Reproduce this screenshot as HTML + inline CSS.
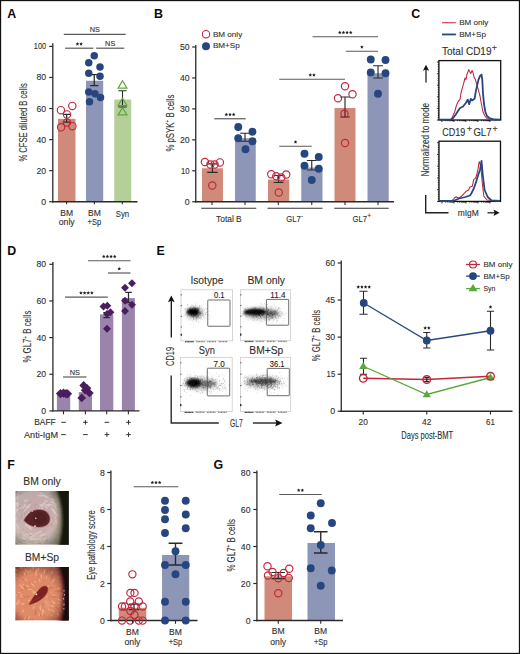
<!DOCTYPE html>
<html><head><meta charset="utf-8"><style>
html,body{margin:0;padding:0;background:#fff;}
svg{display:block;}
text{font-family:"Liberation Sans", sans-serif;}
</style></head><body>
<svg width="520" height="654" viewBox="0 0 520 654">
<rect width="520" height="654" fill="#fff"/>
<rect x="0.5" y="0.5" width="519" height="653" fill="none" stroke="#111" stroke-width="1.3"/>
<text x="7.2" y="17.6" font-size="12.4" font-weight="bold" fill="#0a0a0a">A</text>
<rect x="58" y="118.8" width="17.5" height="82.95" fill="#cf8a7a"/>
<rect x="86" y="80.75" width="17.2" height="121" fill="#8e96b8"/>
<rect x="114.25" y="99.5" width="17" height="102.25" fill="#b5cf98"/>
<line x1="52.8" y1="43.2" x2="52.8" y2="202.5" stroke="#2a2a2a" stroke-width="1.3"/>
<line x1="52" y1="201.75" x2="137.5" y2="201.75" stroke="#2a2a2a" stroke-width="1.3"/>
<line x1="49.2" y1="201.75" x2="52.8" y2="201.75" stroke="#2a2a2a" stroke-width="1.2"/>
<text x="46.2" y="204.75" font-size="8.7" text-anchor="end" fill="#2e2e2e" stroke="#2e2e2e" stroke-width="0.1">0</text>
<line x1="49.2" y1="170.68" x2="52.8" y2="170.68" stroke="#2a2a2a" stroke-width="1.2"/>
<text x="46.2" y="173.68" font-size="8.7" text-anchor="end" fill="#2e2e2e" stroke="#2e2e2e" stroke-width="0.1">20</text>
<line x1="49.2" y1="139.61" x2="52.8" y2="139.61" stroke="#2a2a2a" stroke-width="1.2"/>
<text x="46.2" y="142.61" font-size="8.7" text-anchor="end" fill="#2e2e2e" stroke="#2e2e2e" stroke-width="0.1">40</text>
<line x1="49.2" y1="108.54" x2="52.8" y2="108.54" stroke="#2a2a2a" stroke-width="1.2"/>
<text x="46.2" y="111.54" font-size="8.7" text-anchor="end" fill="#2e2e2e" stroke="#2e2e2e" stroke-width="0.1">60</text>
<line x1="49.2" y1="77.47" x2="52.8" y2="77.47" stroke="#2a2a2a" stroke-width="1.2"/>
<text x="46.2" y="80.47" font-size="8.7" text-anchor="end" fill="#2e2e2e" stroke="#2e2e2e" stroke-width="0.1">80</text>
<line x1="49.2" y1="46.4" x2="52.8" y2="46.4" stroke="#2a2a2a" stroke-width="1.2"/>
<text x="46.2" y="49.4" font-size="8.7" text-anchor="end" fill="#2e2e2e" stroke="#2e2e2e" stroke-width="0.1" textLength="12.4" lengthAdjust="spacingAndGlyphs">100</text>
<line x1="66.6" y1="201.75" x2="66.6" y2="204.3" stroke="#2a2a2a" stroke-width="1.1"/>
<line x1="94.4" y1="201.75" x2="94.4" y2="204.3" stroke="#2a2a2a" stroke-width="1.1"/>
<line x1="122.3" y1="201.75" x2="122.3" y2="204.3" stroke="#2a2a2a" stroke-width="1.1"/>
<text x="66.7" y="215.8" font-size="9" text-anchor="middle" fill="#2e2e2e" stroke="#2e2e2e" stroke-width="0.1" textLength="12.8" lengthAdjust="spacingAndGlyphs">BM</text>
<text x="66.7" y="225.4" font-size="9" text-anchor="middle" fill="#2e2e2e" stroke="#2e2e2e" stroke-width="0.1" textLength="15.9" lengthAdjust="spacingAndGlyphs">only</text>
<text x="94.4" y="215.8" font-size="9" text-anchor="middle" fill="#2e2e2e" stroke="#2e2e2e" stroke-width="0.1" textLength="12.8" lengthAdjust="spacingAndGlyphs">BM</text>
<text x="94.4" y="225.4" font-size="9" text-anchor="middle" fill="#2e2e2e" stroke="#2e2e2e" stroke-width="0.1" textLength="13.6" lengthAdjust="spacingAndGlyphs">+Sp</text>
<text x="122.5" y="216.6" font-size="9" text-anchor="middle" fill="#2e2e2e" stroke="#2e2e2e" stroke-width="0.1" textLength="13.4" lengthAdjust="spacingAndGlyphs">Syn</text>
<text x="26.7" y="122.4" font-size="10.6" text-anchor="middle" fill="#2e2e2e" stroke="#2e2e2e" stroke-width="0.1" textLength="78.4" lengthAdjust="spacingAndGlyphs" transform="rotate(-90 26.7 122.4)">% CFSE diluted B cells</text>
<line x1="63.8" y1="34.4" x2="125.7" y2="34.4" stroke="#5a5a5a" stroke-width="1.2"/>
<text x="94.75" y="32.1" font-size="7.8" text-anchor="middle" fill="#2e2e2e" stroke="#2e2e2e" stroke-width="0.1" textLength="10.2" lengthAdjust="spacingAndGlyphs">NS</text>
<line x1="65.1" y1="48.2" x2="93.4" y2="48.2" stroke="#5a5a5a" stroke-width="1.2"/>
<path d="M77.42 42.10L77.95 43.27L79.23 43.41L78.28 44.28L78.54 45.54L77.42 44.90L76.31 45.54L76.57 44.28L75.62 43.41L76.90 43.27ZM81.08 42.10L81.60 43.27L82.88 43.41L81.93 44.28L82.19 45.54L81.08 44.90L79.96 45.54L80.22 44.28L79.27 43.41L80.55 43.27Z" fill="#1e1e1e"/>
<line x1="96.1" y1="48.2" x2="124.3" y2="48.2" stroke="#5a5a5a" stroke-width="1.2"/>
<text x="110.2" y="45.9" font-size="7.8" text-anchor="middle" fill="#2e2e2e" stroke="#2e2e2e" stroke-width="0.1" textLength="10.2" lengthAdjust="spacingAndGlyphs">NS</text>
<text x="153.9" y="18" font-size="12.4" font-weight="bold" fill="#0a0a0a">B</text>
<text x="212.9" y="36.6" font-size="7.8" fill="#2e2e2e" stroke="#2e2e2e" stroke-width="0.1" textLength="29.3" lengthAdjust="spacingAndGlyphs">BM only</text>
<text x="212.9" y="48.4" font-size="7.8" fill="#2e2e2e" stroke="#2e2e2e" stroke-width="0.1" textLength="26.9" lengthAdjust="spacingAndGlyphs">BM+Sp</text>
<rect x="202" y="168.25" width="21" height="33.5" fill="#cf8a7a"/>
<rect x="235" y="138.25" width="20.75" height="63.5" fill="#8e96b8"/>
<rect x="268" y="179.5" width="21.25" height="22.25" fill="#cf8a7a"/>
<rect x="301.25" y="167.5" width="21.25" height="34.25" fill="#8e96b8"/>
<rect x="334.5" y="108" width="21" height="93.75" fill="#cf8a7a"/>
<rect x="367.5" y="73.25" width="21.25" height="128.5" fill="#8e96b8"/>
<line x1="195.75" y1="45" x2="195.75" y2="202.5" stroke="#2a2a2a" stroke-width="1.3"/>
<line x1="195" y1="201.75" x2="394" y2="201.75" stroke="#2a2a2a" stroke-width="1.3"/>
<line x1="192.2" y1="201.75" x2="195.75" y2="201.75" stroke="#2a2a2a" stroke-width="1.2"/>
<text x="189.6" y="204.75" font-size="8.7" text-anchor="end" fill="#2e2e2e" stroke="#2e2e2e" stroke-width="0.1">0</text>
<line x1="192.2" y1="170.8" x2="195.75" y2="170.8" stroke="#2a2a2a" stroke-width="1.2"/>
<text x="189.6" y="173.8" font-size="8.7" text-anchor="end" fill="#2e2e2e" stroke="#2e2e2e" stroke-width="0.1" textLength="8.6" lengthAdjust="spacingAndGlyphs">10</text>
<line x1="192.2" y1="139.85" x2="195.75" y2="139.85" stroke="#2a2a2a" stroke-width="1.2"/>
<text x="189.6" y="142.85" font-size="8.7" text-anchor="end" fill="#2e2e2e" stroke="#2e2e2e" stroke-width="0.1">20</text>
<line x1="192.2" y1="108.9" x2="195.75" y2="108.9" stroke="#2a2a2a" stroke-width="1.2"/>
<text x="189.6" y="111.9" font-size="8.7" text-anchor="end" fill="#2e2e2e" stroke="#2e2e2e" stroke-width="0.1">30</text>
<line x1="192.2" y1="77.95" x2="195.75" y2="77.95" stroke="#2a2a2a" stroke-width="1.2"/>
<text x="189.6" y="80.95" font-size="8.7" text-anchor="end" fill="#2e2e2e" stroke="#2e2e2e" stroke-width="0.1">40</text>
<line x1="192.2" y1="47" x2="195.75" y2="47" stroke="#2a2a2a" stroke-width="1.2"/>
<text x="189.6" y="50" font-size="8.7" text-anchor="end" fill="#2e2e2e" stroke="#2e2e2e" stroke-width="0.1">50</text>
<line x1="212" y1="201.75" x2="212" y2="205" stroke="#2a2a2a" stroke-width="1.1"/>
<line x1="245" y1="201.75" x2="245" y2="205" stroke="#2a2a2a" stroke-width="1.1"/>
<line x1="278.25" y1="201.75" x2="278.25" y2="205" stroke="#2a2a2a" stroke-width="1.1"/>
<line x1="311.75" y1="201.75" x2="311.75" y2="205" stroke="#2a2a2a" stroke-width="1.1"/>
<line x1="345" y1="201.75" x2="345" y2="205" stroke="#2a2a2a" stroke-width="1.1"/>
<line x1="378" y1="201.75" x2="378" y2="205" stroke="#2a2a2a" stroke-width="1.1"/>
<line x1="201.25" y1="208.25" x2="256.25" y2="208.25" stroke="#333" stroke-width="1.2"/>
<line x1="267.5" y1="208.25" x2="322.5" y2="208.25" stroke="#333" stroke-width="1.2"/>
<line x1="334.25" y1="208.25" x2="388.75" y2="208.25" stroke="#333" stroke-width="1.2"/>
<text x="228.9" y="221.9" font-size="8.9" text-anchor="middle" fill="#2e2e2e" stroke="#2e2e2e" stroke-width="0.1" textLength="25.6" lengthAdjust="spacingAndGlyphs">Total B</text>
<text x="286.2" y="222.3" font-size="8.9" fill="#2e2e2e" stroke="#2e2e2e" stroke-width="0.1" textLength="14.6" lengthAdjust="spacingAndGlyphs">GL7</text>
<text x="300.9" y="218.3" font-size="6.5" fill="#2e2e2e" stroke="#2e2e2e" stroke-width="0.1">-</text>
<text x="352.5" y="222.3" font-size="8.9" fill="#2e2e2e" stroke="#2e2e2e" stroke-width="0.1" textLength="14.6" lengthAdjust="spacingAndGlyphs">GL7</text>
<text x="367.2" y="218.3" font-size="6.5" fill="#2e2e2e" stroke="#2e2e2e" stroke-width="0.1">+</text>
<text x="174.1" y="123.05" font-size="10.6" text-anchor="middle" fill="#2e2e2e" stroke="#2e2e2e" stroke-width="0.1" textLength="57.1" lengthAdjust="spacingAndGlyphs" transform="rotate(-90 174.1 123.05)">% pSYK<tspan font-size="6.5" dy="-3.6">+</tspan><tspan dy="3.6"> B cells</tspan></text>
<line x1="214.25" y1="118.75" x2="245.75" y2="118.75" stroke="#5a5a5a" stroke-width="1.2"/>
<path d="M226.35 112.65L226.88 113.82L228.16 113.96L227.21 114.83L227.47 116.09L226.35 115.45L225.23 116.09L225.49 114.83L224.54 113.96L225.82 113.82ZM230.00 112.65L230.53 113.82L231.81 113.96L230.86 114.83L231.12 116.09L230.00 115.45L228.88 116.09L229.14 114.83L228.19 113.96L229.47 113.82ZM233.65 112.65L234.18 113.82L235.46 113.96L234.51 114.83L234.77 116.09L233.65 115.45L232.53 116.09L232.79 114.83L231.84 113.96L233.12 113.82Z" fill="#1e1e1e"/>
<line x1="279.25" y1="146.25" x2="311.75" y2="146.25" stroke="#5a5a5a" stroke-width="1.2"/>
<path d="M295.50 140.15L296.03 141.32L297.31 141.46L296.36 142.33L296.62 143.59L295.50 142.95L294.38 143.59L294.64 142.33L293.69 141.46L294.97 141.32Z" fill="#1e1e1e"/>
<line x1="279.25" y1="79.25" x2="345" y2="79.25" stroke="#5a5a5a" stroke-width="1.2"/>
<path d="M310.30 73.15L310.83 74.32L312.11 74.46L311.16 75.33L311.42 76.59L310.30 75.95L309.18 76.59L309.44 75.33L308.49 74.46L309.77 74.32ZM313.95 73.15L314.48 74.32L315.76 74.46L314.81 75.33L315.07 76.59L313.95 75.95L312.83 76.59L313.09 75.33L312.14 74.46L313.42 74.32Z" fill="#1e1e1e"/>
<line x1="312.5" y1="36.75" x2="378" y2="36.75" stroke="#5a5a5a" stroke-width="1.2"/>
<path d="M339.77 30.65L340.30 31.82L341.58 31.96L340.63 32.83L340.89 34.09L339.77 33.45L338.66 34.09L338.92 32.83L337.97 31.96L339.25 31.82ZM343.43 30.65L343.95 31.82L345.23 31.96L344.28 32.83L344.54 34.09L343.43 33.45L342.31 34.09L342.57 32.83L341.62 31.96L342.90 31.82ZM347.07 30.65L347.60 31.82L348.88 31.96L347.93 32.83L348.19 34.09L347.07 33.45L345.96 34.09L346.22 32.83L345.27 31.96L346.55 31.82ZM350.73 30.65L351.25 31.82L352.53 31.96L351.58 32.83L351.84 34.09L350.73 33.45L349.61 34.09L349.87 32.83L348.92 31.96L350.20 31.82Z" fill="#1e1e1e"/>
<line x1="345.75" y1="51.25" x2="378" y2="51.25" stroke="#5a5a5a" stroke-width="1.2"/>
<path d="M361.88 45.15L362.40 46.32L363.68 46.46L362.73 47.33L362.99 48.59L361.88 47.95L360.76 48.59L361.02 47.33L360.07 46.46L361.35 46.32Z" fill="#1e1e1e"/>
<text x="411.3" y="18" font-size="12.4" font-weight="bold" fill="#0a0a0a">C</text>
<line x1="442" y1="22.75" x2="455.9" y2="22.75" stroke="#c0263c" stroke-width="1"/>
<text x="459.2" y="25" font-size="7.8" fill="#2e2e2e" stroke="#2e2e2e" stroke-width="0.1" textLength="29" lengthAdjust="spacingAndGlyphs">BM only</text>
<line x1="442" y1="34.45" x2="455.9" y2="34.45" stroke="#27467f" stroke-width="1.8"/>
<text x="459.2" y="36.9" font-size="7.8" fill="#2e2e2e" stroke="#2e2e2e" stroke-width="0.1" textLength="26.7" lengthAdjust="spacingAndGlyphs">BM+Sp</text>
<text x="442" y="55.2" font-size="10.6" fill="#2e2e2e" stroke="#2e2e2e" stroke-width="0.1" textLength="49.5" lengthAdjust="spacingAndGlyphs">Total CD19</text>
<text x="491.8" y="51.4" font-size="8.4" fill="#2e2e2e" stroke="#2e2e2e" stroke-width="0.1" textLength="5.2" lengthAdjust="spacingAndGlyphs">+</text>
<text x="442.3" y="135.5" font-size="10.4" fill="#2e2e2e" stroke="#2e2e2e" stroke-width="0.1" textLength="23.1" lengthAdjust="spacingAndGlyphs">CD19</text>
<text x="466.8" y="132.2" font-size="8.4" fill="#2e2e2e" stroke="#2e2e2e" stroke-width="0.1" textLength="5.3" lengthAdjust="spacingAndGlyphs">+</text>
<text x="473.4" y="135.5" font-size="10.4" fill="#2e2e2e" stroke="#2e2e2e" stroke-width="0.1" textLength="18.1" lengthAdjust="spacingAndGlyphs">GL7</text>
<text x="492.6" y="132.2" font-size="8.4" fill="#2e2e2e" stroke="#2e2e2e" stroke-width="0.1" textLength="5.1" lengthAdjust="spacingAndGlyphs">+</text>
<rect x="438.9" y="60.6" width="61.8" height="59.4" fill="none" stroke="#111" stroke-width="1.3"/>
<rect x="439.0" y="141.2" width="61.5" height="60.2" fill="none" stroke="#111" stroke-width="1.3"/>
<path d="M436.9 120H438.9M437.7 117.68H438.9M437.7 115.37H438.9M437.7 113.05H438.9M437.7 110.74H438.9M436.9 108.42H438.9M437.7 106.1H438.9M437.7 103.79H438.9M437.7 101.47H438.9M437.7 99.16H438.9M436.9 96.84H438.9M437.7 94.52H438.9M437.7 92.21H438.9M437.7 89.89H438.9M437.7 87.58H438.9M436.9 85.26H438.9M437.7 82.94H438.9M437.7 80.63H438.9M437.7 78.31H438.9M437.7 76H438.9M436.9 73.68H438.9M437.7 71.36H438.9M437.7 69.05H438.9M437.7 66.73H438.9M437.7 64.42H438.9M436.9 62.1H438.9M441.9 120V122M445.51 120V121.2M447.63 120V121.2M449.12 120V121.2M450.29 120V121.2M451.24 120V121.2M452.04 120V121.2M452.74 120V121.2M453.35 120V121.2M453.9 120V122M457.51 120V121.2M459.63 120V121.2M461.12 120V121.2M462.29 120V121.2M463.24 120V121.2M464.04 120V121.2M464.74 120V121.2M465.35 120V121.2M465.9 120V122M469.51 120V121.2M471.63 120V121.2M473.12 120V121.2M474.29 120V121.2M475.24 120V121.2M476.04 120V121.2M476.74 120V121.2M477.35 120V121.2M477.9 120V122M481.51 120V121.2M483.63 120V121.2M485.12 120V121.2M486.29 120V121.2M487.24 120V121.2M488.04 120V121.2M488.74 120V121.2M489.35 120V121.2M489.9 120V122" stroke="#111" stroke-width="0.85" fill="none"/>
<path d="M437 201.4H439M437.8 199.05H439M437.8 196.7H439M437.8 194.36H439M437.8 192.01H439M437 189.66H439M437.8 187.31H439M437.8 184.96H439M437.8 182.62H439M437.8 180.27H439M437 177.92H439M437.8 175.57H439M437.8 173.22H439M437.8 170.88H439M437.8 168.53H439M437 166.18H439M437.8 163.83H439M437.8 161.48H439M437.8 159.14H439M437.8 156.79H439M437 154.44H439M437.8 152.09H439M437.8 149.74H439M437.8 147.4H439M437.8 145.05H439M437 142.7H439M442 201.4V203.4M445.61 201.4V202.6M447.73 201.4V202.6M449.22 201.4V202.6M450.39 201.4V202.6M451.34 201.4V202.6M452.14 201.4V202.6M452.84 201.4V202.6M453.45 201.4V202.6M454 201.4V203.4M457.61 201.4V202.6M459.73 201.4V202.6M461.22 201.4V202.6M462.39 201.4V202.6M463.34 201.4V202.6M464.14 201.4V202.6M464.84 201.4V202.6M465.45 201.4V202.6M466 201.4V203.4M469.61 201.4V202.6M471.73 201.4V202.6M473.22 201.4V202.6M474.39 201.4V202.6M475.34 201.4V202.6M476.14 201.4V202.6M476.84 201.4V202.6M477.45 201.4V202.6M478 201.4V203.4M481.61 201.4V202.6M483.73 201.4V202.6M485.22 201.4V202.6M486.39 201.4V202.6M487.34 201.4V202.6M488.14 201.4V202.6M488.84 201.4V202.6M489.45 201.4V202.6M490 201.4V203.4" stroke="#111" stroke-width="0.85" fill="none"/>
<path d="M440 119.6L450.8 119.4L452.5 117L454.6 112L456 107L457 104L458.5 101L460 99.6L461 93L462.3 88L463.5 84L465 78L466 79.5L467 74.2L468.8 69.6L469.6 71.5L470.8 73.5L472 70.5L473 72.5L474 77L475.4 79.6L477 85L478.5 90.4L480 96L480.8 101L482 107L483 112L485 116L487 118.8L491.5 119.5L500 119.6" stroke="#c0263c" stroke-width="1.05" fill="none" stroke-linejoin="round"/>
<path d="M440 119.6L451.5 119.5L453.5 117.5L455.4 115L458 111L460 108L463 106.5L466 102.7L467.7 99.6L469.2 104.2L470.8 98.8L472 100.5L474.6 98.8L476 90.4L478.5 79.6L480 76L481.5 74.7L482.3 80L483 93.5L484 104L485.4 112L487 116L489.2 118L494.6 119.5L500 119.6" stroke="#27467f" stroke-width="1.8" fill="none" stroke-linejoin="round"/>
<path d="M440 201L451.5 201L454.6 197.8L456.2 196.7L458.5 198.2L461.5 196.2L463.8 194L466.2 191.2L468.5 190L470 187L472.3 186.2L473.8 179.3L475.8 177.8L477.7 170.8L479.2 161.6L480.8 166.2L482.3 183.2L483.8 196.2L487 200L500 201" stroke="#c0263c" stroke-width="1.05" fill="none" stroke-linejoin="round"/>
<path d="M440 201L453 201L459.2 198.5L465.4 197L470 195.5L471.5 193.2L473.8 188.5L476.2 181.6L478.5 174L480 170L481.5 160.8L482.8 175.5L484.6 190L487.7 197L491.5 200.4L500 201" stroke="#27467f" stroke-width="1.8" fill="none" stroke-linejoin="round"/>
<line x1="426" y1="82.5" x2="426" y2="68" stroke="#111" stroke-width="1.2"/>
<path d="M422.9 70.8L426 64.8L429.1 70.8L426 69.6Z" fill="#111"/>
<text x="429.2" y="139.7" font-size="10.6" text-anchor="middle" fill="#2e2e2e" stroke="#2e2e2e" stroke-width="0.1" textLength="73.4" lengthAdjust="spacingAndGlyphs" transform="rotate(-90 429.2 139.7)">Normalized to mode</text>
<path d="M425.7 195V212.8H448.5" stroke="#222" stroke-width="1.4" fill="none"/>
<text x="468.2" y="215.7" font-size="9.8" text-anchor="middle" fill="#2e2e2e" stroke="#2e2e2e" stroke-width="0.1" textLength="21" lengthAdjust="spacingAndGlyphs">mIgM</text>
<line x1="487.5" y1="212.8" x2="496" y2="212.8" stroke="#111" stroke-width="1.2"/>
<path d="M493.5 209.6L499.6 212.8L493.5 216L494.7 212.8Z" fill="#111"/>
<text x="7.2" y="254.6" font-size="12.4" font-weight="bold" fill="#0a0a0a">D</text>
<rect x="56.9" y="394.5" width="13.3" height="16.4" fill="#9b84ab"/>
<rect x="78.8" y="392.1" width="13.2" height="18.8" fill="#9b84ab"/>
<rect x="100" y="314.4" width="13.3" height="96.5" fill="#9b84ab"/>
<rect x="121.9" y="298.1" width="13" height="112.8" fill="#9b84ab"/>
<line x1="52.9" y1="262" x2="52.9" y2="411.6" stroke="#2a2a2a" stroke-width="1.3"/>
<line x1="52.1" y1="410.9" x2="139.5" y2="410.9" stroke="#2a2a2a" stroke-width="1.3"/>
<line x1="49.3" y1="410.9" x2="52.9" y2="410.9" stroke="#2a2a2a" stroke-width="1.2"/>
<text x="46.2" y="413.9" font-size="8.7" text-anchor="end" fill="#2e2e2e" stroke="#2e2e2e" stroke-width="0.1">0</text>
<line x1="49.3" y1="374.25" x2="52.9" y2="374.25" stroke="#2a2a2a" stroke-width="1.2"/>
<text x="46.2" y="377.25" font-size="8.7" text-anchor="end" fill="#2e2e2e" stroke="#2e2e2e" stroke-width="0.1">20</text>
<line x1="49.3" y1="337.6" x2="52.9" y2="337.6" stroke="#2a2a2a" stroke-width="1.2"/>
<text x="46.2" y="340.6" font-size="8.7" text-anchor="end" fill="#2e2e2e" stroke="#2e2e2e" stroke-width="0.1">40</text>
<line x1="49.3" y1="300.95" x2="52.9" y2="300.95" stroke="#2a2a2a" stroke-width="1.2"/>
<text x="46.2" y="303.95" font-size="8.7" text-anchor="end" fill="#2e2e2e" stroke="#2e2e2e" stroke-width="0.1">60</text>
<line x1="49.3" y1="264.3" x2="52.9" y2="264.3" stroke="#2a2a2a" stroke-width="1.2"/>
<text x="46.2" y="267.3" font-size="8.7" text-anchor="end" fill="#2e2e2e" stroke="#2e2e2e" stroke-width="0.1">80</text>
<line x1="63.5" y1="410.9" x2="63.5" y2="414.3" stroke="#2a2a2a" stroke-width="1.1"/>
<line x1="85.4" y1="410.9" x2="85.4" y2="414.3" stroke="#2a2a2a" stroke-width="1.1"/>
<line x1="106.7" y1="410.9" x2="106.7" y2="414.3" stroke="#2a2a2a" stroke-width="1.1"/>
<line x1="128.4" y1="410.9" x2="128.4" y2="414.3" stroke="#2a2a2a" stroke-width="1.1"/>
<text x="31.2" y="336.6" font-size="10.6" text-anchor="middle" fill="#2e2e2e" stroke="#2e2e2e" stroke-width="0.1" textLength="51.9" lengthAdjust="spacingAndGlyphs" transform="rotate(-90 31.2 336.6)">% GL7<tspan font-size="6.5" dy="-3.6">+</tspan><tspan dy="3.6"> B cells</tspan></text>
<line x1="63" y1="377" x2="86.5" y2="377" stroke="#5a5a5a" stroke-width="1.2"/>
<text x="74.75" y="374.7" font-size="7.8" text-anchor="middle" fill="#2e2e2e" stroke="#2e2e2e" stroke-width="0.1" textLength="10.2" lengthAdjust="spacingAndGlyphs">NS</text>
<line x1="65" y1="297.1" x2="107.8" y2="297.1" stroke="#5a5a5a" stroke-width="1.2"/>
<path d="M80.93 291.00L81.45 292.17L82.73 292.31L81.78 293.18L82.04 294.44L80.93 293.80L79.81 294.44L80.07 293.18L79.12 292.31L80.40 292.17ZM84.58 291.00L85.10 292.17L86.38 292.31L85.43 293.18L85.69 294.44L84.58 293.80L83.46 294.44L83.72 293.18L82.77 292.31L84.05 292.17ZM88.23 291.00L88.75 292.17L90.03 292.31L89.08 293.18L89.34 294.44L88.23 293.80L87.11 294.44L87.37 293.18L86.42 292.31L87.70 292.17ZM91.88 291.00L92.40 292.17L93.68 292.31L92.73 293.18L92.99 294.44L91.88 293.80L90.76 294.44L91.02 293.18L90.07 292.31L91.35 292.17Z" fill="#1e1e1e"/>
<line x1="88" y1="260.75" x2="130.5" y2="260.75" stroke="#5a5a5a" stroke-width="1.2"/>
<path d="M103.78 254.65L104.30 255.82L105.58 255.96L104.63 256.83L104.89 258.09L103.78 257.45L102.66 258.09L102.92 256.83L101.97 255.96L103.25 255.82ZM107.42 254.65L107.95 255.82L109.23 255.96L108.28 256.83L108.54 258.09L107.42 257.45L106.31 258.09L106.57 256.83L105.62 255.96L106.90 255.82ZM111.08 254.65L111.60 255.82L112.88 255.96L111.93 256.83L112.19 258.09L111.08 257.45L109.96 258.09L110.22 256.83L109.27 255.96L110.55 255.82ZM114.72 254.65L115.25 255.82L116.53 255.96L115.58 256.83L115.84 258.09L114.72 257.45L113.61 258.09L113.87 256.83L112.92 255.96L114.20 255.82Z" fill="#1e1e1e"/>
<line x1="108" y1="273" x2="130.5" y2="273" stroke="#5a5a5a" stroke-width="1.2"/>
<path d="M119.25 266.90L119.78 268.07L121.06 268.21L120.11 269.08L120.37 270.34L119.25 269.70L118.13 270.34L118.39 269.08L117.44 268.21L118.72 268.07Z" fill="#1e1e1e"/>
<text x="55.8" y="425.2" font-size="8.8" text-anchor="end" fill="#2e2e2e" stroke="#2e2e2e" stroke-width="0.1" textLength="21.6" lengthAdjust="spacingAndGlyphs">BAFF</text>
<text x="58" y="437.5" font-size="8.8" text-anchor="end" fill="#2e2e2e" stroke="#2e2e2e" stroke-width="0.1" textLength="34" lengthAdjust="spacingAndGlyphs">Anti-IgM</text>
<line x1="61.2" y1="422.3" x2="65.8" y2="422.3" stroke="#333" stroke-width="1"/>
<line x1="83.1" y1="422.3" x2="87.7" y2="422.3" stroke="#333" stroke-width="1"/>
<line x1="85.4" y1="420" x2="85.4" y2="424.6" stroke="#333" stroke-width="1"/>
<line x1="104.6" y1="422.3" x2="109.2" y2="422.3" stroke="#333" stroke-width="1"/>
<line x1="126.2" y1="422.3" x2="130.8" y2="422.3" stroke="#333" stroke-width="1"/>
<line x1="128.5" y1="420" x2="128.5" y2="424.6" stroke="#333" stroke-width="1"/>
<line x1="61.2" y1="434.6" x2="65.8" y2="434.6" stroke="#333" stroke-width="1"/>
<line x1="83.1" y1="434.6" x2="87.7" y2="434.6" stroke="#333" stroke-width="1"/>
<line x1="104.6" y1="434.6" x2="109.2" y2="434.6" stroke="#333" stroke-width="1"/>
<line x1="106.9" y1="432.3" x2="106.9" y2="436.9" stroke="#333" stroke-width="1"/>
<line x1="126.2" y1="434.6" x2="130.8" y2="434.6" stroke="#333" stroke-width="1"/>
<line x1="128.5" y1="432.3" x2="128.5" y2="436.9" stroke="#333" stroke-width="1"/>
<text x="156.6" y="255" font-size="12.4" font-weight="bold" fill="#0a0a0a">E</text>
<text x="206.9" y="283.5" font-size="10.6" text-anchor="middle" fill="#2e2e2e" stroke="#2e2e2e" stroke-width="0.1" textLength="33" lengthAdjust="spacingAndGlyphs">Isotype</text>
<text x="266.25" y="283.5" font-size="10.6" text-anchor="middle" fill="#2e2e2e" stroke="#2e2e2e" stroke-width="0.1" textLength="37.7" lengthAdjust="spacingAndGlyphs">BM only</text>
<text x="206.9" y="353.7" font-size="10.6" text-anchor="middle" fill="#2e2e2e" stroke="#2e2e2e" stroke-width="0.1" textLength="16.1" lengthAdjust="spacingAndGlyphs">Syn</text>
<text x="266.25" y="353.7" font-size="10.6" text-anchor="middle" fill="#2e2e2e" stroke="#2e2e2e" stroke-width="0.1" textLength="33.9" lengthAdjust="spacingAndGlyphs">BM+Sp</text>
<defs><filter id="fb1" x="-50%" y="-50%" width="200%" height="200%"><feGaussianBlur stdDeviation="1.1"/></filter><filter id="fb2" x="-50%" y="-50%" width="200%" height="200%"><feGaussianBlur stdDeviation="2.2"/></filter></defs>
<rect x="181" y="289.8" width="51.5" height="51" fill="none" stroke="#d0d0d0" stroke-width="0.9"/>
<clipPath id="fc181289"><rect x="181" y="289.8" width="51.5" height="51"/></clipPath>
<g clip-path="url(#fc181289)"><ellipse cx="194.5" cy="313" rx="8.5" ry="5.5" fill="#000" fill-opacity="0.3" filter="url(#fb2)"/><ellipse cx="193.1" cy="311.9" rx="6.2" ry="3.7" fill="#000" fill-opacity="0.95" filter="url(#fb1)"/><path d="M194.2 315.6h.6M200.1 313.8h.6M199.5 313.6h.6M191.7 305.1h.6M192.7 311.8h.6M191.6 314.1h.6M196.6 317.3h.6M193.7 318.0h.6M197.4 316.8h.6M185.7 309.0h.6M201.0 305.9h.6M193.6 314.2h.6M197.1 312.6h.6M193.4 315.4h.6M192.3 312.1h.6M196.1 313.2h.6M197.7 308.0h.6M193.1 313.8h.6M193.3 311.2h.6M197.1 313.5h.6M190.1 313.9h.6M187.2 312.1h.6M195.8 313.5h.6M191.0 312.5h.6M185.4 314.8h.6M190.3 314.0h.6M191.9 310.9h.6M188.6 310.7h.6M187.3 317.7h.6M194.2 312.2h.6M198.0 315.5h.6M193.0 313.7h.6M190.7 310.8h.6M195.7 310.3h.6M197.2 312.9h.6M192.6 313.3h.6M196.5 314.3h.6M198.7 308.7h.6M193.1 310.7h.6M190.3 312.2h.6M195.6 317.3h.6M195.1 305.4h.6M198.9 313.8h.6M188.2 310.9h.6M191.0 313.8h.6M190.2 311.0h.6M186.2 313.6h.6M194.6 317.2h.6M196.4 313.6h.6M190.7 313.8h.6M200.2 313.6h.6M197.7 310.2h.6M196.8 314.1h.6M195.8 311.9h.6M198.3 310.1h.6M188.0 312.4h.6M196.8 311.8h.6M196.7 314.8h.6M186.0 312.4h.6M195.6 310.9h.6M192.9 316.9h.6M197.5 315.5h.6M192.0 316.3h.6M193.9 314.3h.6M195.5 312.2h.6M190.1 311.2h.6M196.7 311.7h.6M193.5 315.3h.6M196.2 312.8h.6M191.7 308.1h.6M198.9 312.4h.6M196.7 308.3h.6M193.2 313.0h.6M196.8 308.9h.6M199.7 308.7h.6M202.1 312.9h.6M186.9 312.3h.6M198.0 307.5h.6M196.1 314.7h.6M193.6 319.0h.6M189.5 308.1h.6M199.7 318.0h.6M188.3 310.4h.6M196.6 311.0h.6M199.9 312.0h.6M186.8 308.2h.6M192.6 316.4h.6M188.1 314.0h.6M195.1 310.2h.6M200.8 311.7h.6M203.1 308.0h.6M186.0 311.5h.6M191.4 315.3h.6M197.2 307.4h.6M201.1 311.2h.6M195.9 312.9h.6M190.6 315.6h.6M195.3 316.5h.6M193.9 311.1h.6M193.1 310.3h.6M190.7 313.9h.6M195.7 311.4h.6M195.4 311.6h.6M193.6 315.7h.6M193.0 317.6h.6M188.2 313.3h.6M191.8 311.9h.6M199.4 314.2h.6M193.1 306.8h.6M187.5 312.4h.6M200.0 309.3h.6M196.4 319.7h.6M203.5 314.7h.6M194.3 312.9h.6M191.9 311.9h.6M187.5 305.0h.6M200.0 314.6h.6M205.6 317.4h.6M190.3 310.3h.6M191.1 314.6h.6M196.7 314.7h.6M190.3 307.9h.6M192.8 315.3h.6M192.4 316.6h.6M194.9 313.2h.6M198.9 312.3h.6M194.1 314.9h.6M198.1 307.9h.6M192.1 312.8h.6M195.5 315.7h.6M184.4 308.8h.6M187.5 315.5h.6M197.6 311.2h.6M191.3 306.3h.6M196.6 312.2h.6M196.4 309.6h.6M200.0 313.5h.6M197.7 309.0h.6M198.6 315.7h.6M193.5 310.3h.6M190.9 313.6h.6M190.7 310.7h.6M191.8 311.5h.6M188.9 316.1h.6M191.5 313.1h.6M193.6 311.3h.6M195.1 308.7h.6M192.5 316.0h.6M185.3 314.7h.6M193.7 311.5h.6M195.0 313.2h.6M198.9 309.4h.6M196.6 309.5h.6M191.1 310.0h.6M190.7 313.6h.6M203.0 313.4h.6M197.4 310.3h.6M202.2 314.7h.6M203.6 314.9h.6M190.3 313.0h.6M195.7 315.6h.6M196.1 311.6h.6M196.5 312.2h.6M196.4 313.9h.6M194.9 312.4h.6M194.8 314.9h.6M187.2 308.7h.6M193.3 316.8h.6M190.6 310.2h.6M194.6 312.0h.6M191.9 308.4h.6M196.8 314.3h.6M197.7 316.3h.6M195.4 315.7h.6M195.4 315.0h.6M194.4 307.8h.6M192.0 310.2h.6M193.3 311.1h.6M191.8 309.7h.6M195.7 315.9h.6M194.1 313.1h.6M196.6 312.4h.6M188.0 314.0h.6M198.0 309.6h.6M190.6 309.8h.6M190.7 309.9h.6M193.1 314.0h.6M191.5 313.5h.6M195.3 314.2h.6M191.4 315.7h.6M189.2 308.4h.6M190.2 310.8h.6M199.9 312.9h.6M194.2 308.5h.6M188.7 310.9h.6M194.0 315.5h.6M187.0 315.8h.6M202.1 315.7h.6M187.1 312.6h.6M196.2 311.9h.6M196.4 315.7h.6M187.5 311.4h.6M195.4 313.5h.6M198.5 316.5h.6M196.1 311.4h.6M195.2 310.7h.6M198.3 312.5h.6M194.7 314.3h.6M195.5 313.9h.6M193.4 313.0h.6M196.8 314.2h.6M189.8 307.7h.6M197.6 309.9h.6M191.7 313.0h.6M189.1 309.7h.6M195.6 308.5h.6M201.6 308.9h.6M198.3 309.7h.6M191.7 312.0h.6M197.1 309.4h.6M192.0 313.2h.6M193.4 317.6h.6M194.4 312.1h.6M183.6 316.3h.6M194.9 313.4h.6M189.4 309.1h.6M190.9 311.7h.6M187.4 309.6h.6M187.2 314.8h.6M189.8 309.0h.6M197.7 316.5h.6M201.5 314.2h.6M193.9 306.4h.6M198.9 314.9h.6M192.8 317.2h.6M185.4 310.1h.6M194.7 315.5h.6M196.0 307.1h.6M192.1 313.3h.6M195.4 307.5h.6M196.6 313.9h.6M190.1 307.1h.6M187.4 304.6h.6M193.0 313.7h.6M193.1 319.4h.6M192.4 310.7h.6M198.4 315.0h.6M201.8 312.8h.6M192.1 311.5h.6M197.1 314.3h.6M198.2 317.4h.6M197.2 308.8h.6M198.7 314.2h.6M192.2 313.5h.6M197.3 308.2h.6M203.1 317.3h.6M197.6 318.3h.6M191.2 309.6h.6M196.7 317.7h.6M199.7 312.7h.6M195.7 312.0h.6M191.5 317.0h.6M200.9 313.2h.6M188.4 313.5h.6M196.3 317.1h.6M193.9 316.4h.6M188.6 315.2h.6M199.5 308.3h.6M195.6 307.8h.6M188.7 315.9h.6M196.7 309.7h.6M192.1 312.9h.6M185.4 309.3h.6M190.9 311.9h.6M195.2 308.7h.6M196.9 317.4h.6M194.7 309.4h.6M194.2 312.1h.6M196.1 311.9h.6M193.1 316.1h.6M199.3 308.2h.6M194.7 312.4h.6M195.3 311.9h.6M196.4 314.1h.6M189.2 313.9h.6M190.8 311.1h.6M200.9 313.2h.6M195.5 311.4h.6M192.7 313.9h.6M195.5 312.2h.6M191.8 310.5h.6M195.3 312.4h.6M191.0 313.6h.6M195.2 319.3h.6M186.9 311.0h.6M200.0 313.4h.6M191.7 316.9h.6M186.9 306.3h.6M193.0 307.3h.6M192.3 308.9h.6M194.7 312.2h.6M188.8 319.8h.6M195.8 313.7h.6M210.3 316.1h.6M188.2 311.8h.6M195.5 305.1h.6M192.6 305.6h.6M194.9 315.6h.6M185.8 313.1h.6M188.8 308.6h.6M196.1 315.9h.6M193.8 307.9h.6M201.4 315.9h.6M190.8 316.9h.6M194.8 310.2h.6M207.1 309.2h.6M190.6 315.0h.6M189.9 309.2h.6M193.8 315.1h.6M193.8 308.9h.6M197.8 314.9h.6M194.6 312.8h.6M190.6 311.2h.6M195.0 309.8h.6M205.9 313.2h.6M199.7 306.8h.6M193.4 311.3h.6M190.1 314.5h.6M196.8 308.7h.6M193.2 317.6h.6M202.7 311.6h.6M198.2 309.1h.6M198.0 316.7h.6M194.8 317.5h.6M193.8 311.9h.6M195.5 309.8h.6M199.8 312.5h.6M196.4 310.4h.6M192.4 311.6h.6M199.7 317.2h.6M194.9 313.7h.6M193.7 312.9h.6M190.4 313.5h.6M191.5 312.3h.6M191.1 315.0h.6M198.6 311.4h.6M196.5 312.8h.6M193.0 319.7h.6M201.1 308.3h.6M198.1 315.2h.6M209.2 311.3h.6M199.0 306.0h.6M193.5 323.9h.6M202.4 310.7h.6M194.5 309.0h.6M196.5 319.0h.6M200.6 318.7h.6M198.4 309.4h.6M195.2 308.1h.6M196.2 310.0h.6M196.0 318.5h.6M204.8 312.8h.6M195.4 310.8h.6M196.1 313.9h.6M209.2 318.8h.6M196.2 308.4h.6M206.4 312.5h.6M205.6 308.5h.6M198.2 322.7h.6M191.9 321.3h.6M201.3 317.8h.6M202.4 313.5h.6M203.8 316.6h.6M199.4 305.6h.6M205.0 315.1h.6M206.0 308.7h.6M193.7 308.7h.6M206.1 311.2h.6M199.9 312.6h.6M196.2 316.3h.6M197.4 316.8h.6M208.4 315.1h.6M203.9 310.2h.6M190.1 316.7h.6M199.4 313.5h.6M198.3 318.7h.6M198.1 310.3h.6M196.4 302.9h.6M191.7 312.1h.6M203.3 322.6h.6M194.3 315.9h.6M197.1 313.2h.6M196.0 317.5h.6M195.4 316.0h.6M202.7 315.8h.6M200.9 311.9h.6M195.6 314.3h.6M194.3 314.8h.6M196.7 311.4h.6M203.8 309.5h.6M199.6 314.6h.6M200.2 317.9h.6M197.4 316.6h.6M197.7 316.0h.6M200.1 316.0h.6M189.8 324.3h.6M207.1 315.0h.6M195.1 318.2h.6M196.2 321.8h.6M205.7 314.2h.6M200.1 315.1h.6M199.2 318.2h.6M196.1 320.8h.6M191.2 315.3h.6M199.9 315.5h.6M205.0 314.4h.6M194.5 309.2h.6M205.8 318.5h.6M193.4 313.0h.6M195.3 307.1h.6M201.5 313.4h.6M199.0 307.1h.6M202.5 310.0h.6M195.3 314.1h.6M193.8 310.3h.6M189.7 318.3h.6M193.0 308.1h.6M193.6 315.1h.6" stroke="#000" stroke-width="0.6" stroke-opacity="0.35" fill="none"/></g>
<rect x="207.75" y="300" width="22.25" height="26.25" rx="0.5" fill="none" stroke="#555" stroke-width="0.85"/>
<text x="219.2" y="298.3" font-size="8.2" text-anchor="middle" fill="#1a1a1a" stroke="#1a1a1a" stroke-width="0.1" textLength="10.6" lengthAdjust="spacingAndGlyphs">0.1</text>
<path d="M180.7 294.9h1.3M180.7 305.61h1.3M180.7 316.32h1.3M180.7 327.03h1.3" stroke="#333" stroke-width="0.8" fill="none"/>
<path d="M181.3 333.66v2.2" stroke="#111" stroke-width="1.2" fill="none"/>
<path d="M185.5 341v1.3M187 341v1.3M188.5 341v1.3M190 341v1.3M191.5 341v1.3M193 341v1.3M196.7 341v1.3M198.2 341v1.3M199.7 341v1.3M201.2 341v1.3M202.7 341v1.3M204.2 341v1.3M207.9 341v1.3M209.4 341v1.3M210.9 341v1.3M212.4 341v1.3M213.9 341v1.3M215.4 341v1.3M219.1 341v1.3M220.6 341v1.3M222.1 341v1.3M223.6 341v1.3M225.1 341v1.3M226.6 341v1.3" stroke="#444" stroke-width="0.7" fill="none"/>
<path d="M185.5 341.8h8.5" stroke="#222" stroke-width="0.8" stroke-dasharray="1 .6" fill="none"/>
<rect x="240.5" y="289.8" width="50.1" height="50.8" fill="none" stroke="#d0d0d0" stroke-width="0.9"/>
<clipPath id="fc240289"><rect x="240.5" y="289.8" width="50.1" height="50.8"/></clipPath>
<g clip-path="url(#fc240289)"><ellipse cx="262" cy="313.5" rx="18" ry="5.5" fill="#000" fill-opacity="0.3" filter="url(#fb2)"/><ellipse cx="255" cy="312" rx="11.5" ry="3.2" fill="#000" fill-opacity="0.9" filter="url(#fb1)"/><ellipse cx="271" cy="313" rx="6" ry="2.8" fill="#000" fill-opacity="0.35" filter="url(#fb1)"/><path d="M260.5 313.4h.6M267.7 314.5h.6M263.4 310.3h.6M257.9 314.1h.6M256.7 310.1h.6M255.6 312.1h.6M265.2 312.1h.6M250.8 311.1h.6M260.2 306.5h.6M255.3 310.1h.6M258.0 313.4h.6M254.0 312.3h.6M273.2 311.4h.6M250.8 313.7h.6M258.1 314.4h.6M258.3 314.8h.6M261.0 310.2h.6M259.7 312.5h.6M259.5 311.5h.6M263.9 310.0h.6M244.1 308.3h.6M256.2 312.2h.6M246.2 310.0h.6M258.0 318.5h.6M246.6 312.2h.6M248.4 311.8h.6M255.6 311.3h.6M267.3 317.7h.6M260.7 309.8h.6M258.5 312.0h.6M267.3 310.3h.6M248.5 312.1h.6M252.7 315.5h.6M253.9 308.5h.6M266.0 312.4h.6M273.2 317.0h.6M245.5 311.0h.6M275.9 312.0h.6M268.6 310.0h.6M262.8 305.1h.6M259.1 312.2h.6M275.5 315.7h.6M256.8 311.1h.6M252.3 307.3h.6M257.2 313.2h.6M245.2 312.7h.6M259.9 315.3h.6M255.2 315.0h.6M258.8 311.7h.6M259.0 313.6h.6M247.6 307.4h.6M266.6 315.6h.6M248.0 313.0h.6M263.2 315.5h.6M243.4 315.4h.6M259.1 311.6h.6M249.6 312.0h.6M256.5 310.0h.6M250.9 306.7h.6M247.2 312.9h.6M256.7 309.4h.6M261.1 314.4h.6M244.4 312.7h.6M249.1 310.3h.6M254.4 307.5h.6M251.1 314.6h.6M249.6 314.2h.6M262.9 312.1h.6M263.9 311.3h.6M262.1 311.7h.6M248.6 312.1h.6M256.7 311.0h.6M254.6 306.8h.6M244.7 314.6h.6M263.2 308.3h.6M256.8 311.5h.6M252.2 311.6h.6M267.5 313.2h.6M262.2 307.9h.6M263.0 315.8h.6M265.7 314.3h.6M261.9 314.6h.6M246.0 316.0h.6M253.0 310.2h.6M264.1 303.7h.6M250.0 313.4h.6M256.4 316.1h.6M259.3 315.7h.6M267.6 311.0h.6M266.5 312.2h.6M263.3 313.3h.6M254.6 307.4h.6M263.4 310.6h.6M260.3 310.7h.6M254.8 316.9h.6M267.0 310.7h.6M260.1 316.9h.6M250.1 312.5h.6M266.2 307.8h.6M254.1 318.7h.6M260.9 309.8h.6M243.9 314.2h.6M255.9 317.3h.6M248.5 311.0h.6M248.3 309.1h.6M273.2 312.7h.6M254.9 309.1h.6M258.0 309.5h.6M264.9 311.4h.6M255.1 315.2h.6M260.2 311.7h.6M245.2 314.3h.6M257.6 317.1h.6M252.8 316.1h.6M260.1 316.5h.6M257.5 315.9h.6M245.0 308.0h.6M248.0 313.4h.6M262.0 312.2h.6M259.5 309.5h.6M259.3 308.1h.6M251.1 309.2h.6M253.4 310.2h.6M251.2 310.8h.6M258.9 314.4h.6M254.7 311.7h.6M246.6 312.1h.6M249.0 316.2h.6M257.2 311.6h.6M256.6 314.2h.6M255.4 309.5h.6M274.2 313.4h.6M253.9 312.8h.6M257.0 313.0h.6M248.1 311.2h.6M253.2 309.6h.6M260.2 311.7h.6M260.6 311.2h.6M254.8 315.4h.6M259.2 315.0h.6M256.5 309.1h.6M274.5 313.8h.6M262.6 311.2h.6M255.5 308.4h.6M242.1 315.3h.6M245.8 313.8h.6M266.8 309.1h.6M253.4 311.0h.6M262.9 309.2h.6M257.1 311.5h.6M262.0 314.2h.6M255.0 316.6h.6M275.1 311.5h.6M247.8 316.4h.6M245.1 315.8h.6M258.2 311.3h.6M267.4 307.8h.6M255.6 314.9h.6M264.4 314.2h.6M251.8 319.1h.6M246.5 316.5h.6M267.2 314.7h.6M268.5 317.2h.6M268.3 309.6h.6M252.5 313.1h.6M246.8 311.7h.6M246.6 317.4h.6M254.2 314.1h.6M260.7 303.9h.6M260.1 316.4h.6M244.5 310.0h.6M257.6 314.7h.6M256.1 311.2h.6M256.7 313.2h.6M255.8 314.3h.6M254.4 313.1h.6M260.7 309.9h.6M257.0 316.5h.6M257.8 313.6h.6M250.5 312.5h.6M259.2 314.5h.6M255.0 311.0h.6M259.9 313.2h.6M253.9 313.6h.6M263.4 313.5h.6M254.7 310.0h.6M255.2 309.3h.6M257.7 313.2h.6M255.9 313.5h.6M252.4 316.3h.6M241.7 313.8h.6M270.7 309.5h.6M243.4 314.0h.6M253.3 314.9h.6M261.2 315.4h.6M259.0 313.5h.6M260.5 309.1h.6M262.2 315.8h.6M266.1 310.5h.6M258.4 314.2h.6M279.3 308.1h.6M247.9 314.7h.6M257.8 310.4h.6M253.1 315.6h.6M251.6 317.5h.6M258.3 315.8h.6M267.7 309.3h.6M250.3 309.9h.6M250.3 310.1h.6M261.8 314.4h.6M260.4 313.5h.6M271.7 313.0h.6M264.2 313.4h.6M257.8 314.2h.6M253.4 314.4h.6M257.7 317.3h.6M254.6 312.4h.6M245.1 313.1h.6M256.1 307.3h.6M254.6 308.8h.6M254.1 310.6h.6M252.6 309.2h.6M269.5 313.2h.6M261.6 315.4h.6M263.5 311.3h.6M251.1 311.2h.6M247.8 311.1h.6M253.7 312.9h.6M258.0 311.0h.6M253.2 313.7h.6M254.5 313.4h.6M263.7 313.5h.6M258.4 314.7h.6M248.1 312.6h.6M252.6 312.9h.6M250.7 317.4h.6M257.4 312.4h.6M246.7 314.7h.6M254.6 312.7h.6M261.5 311.2h.6M256.2 311.2h.6M248.7 310.2h.6M251.1 312.5h.6M257.0 310.8h.6M259.9 311.3h.6M262.7 315.9h.6M254.8 312.1h.6M245.5 315.7h.6M267.4 313.2h.6M258.4 314.9h.6M259.2 310.8h.6M258.4 312.9h.6M247.7 319.9h.6M253.4 314.8h.6M258.1 315.3h.6M264.3 313.1h.6M256.5 314.9h.6M254.1 310.1h.6M258.8 313.7h.6M266.4 314.8h.6M261.7 311.3h.6M275.9 312.0h.6M267.4 311.5h.6M266.8 312.0h.6M263.5 309.1h.6M244.9 308.5h.6M262.8 312.2h.6M260.8 307.6h.6M251.8 309.7h.6M260.7 310.6h.6M259.3 309.5h.6M252.3 313.1h.6M255.0 311.2h.6M253.9 312.2h.6M257.8 309.6h.6M252.6 310.4h.6M260.4 313.9h.6M253.7 311.1h.6M242.5 313.5h.6M252.1 313.0h.6M260.1 312.9h.6M256.2 316.9h.6M255.1 311.3h.6M256.6 313.6h.6M268.6 313.6h.6M247.1 311.8h.6M263.1 309.2h.6M243.9 314.3h.6M252.3 313.1h.6M257.3 312.5h.6M249.2 312.5h.6M257.6 312.5h.6M261.8 309.9h.6M246.5 313.2h.6M255.4 307.3h.6M253.0 312.3h.6M254.5 311.4h.6M249.6 314.4h.6M266.7 311.6h.6M249.0 311.0h.6M269.6 313.8h.6M251.7 311.6h.6M271.5 311.2h.6M260.3 311.3h.6M259.6 316.6h.6M262.4 314.2h.6M263.2 313.7h.6M267.2 309.0h.6M269.9 314.1h.6M253.2 308.7h.6M246.0 313.7h.6M252.9 317.8h.6M262.1 307.6h.6M259.0 315.8h.6M256.9 314.6h.6M253.2 307.4h.6M250.9 311.7h.6M253.7 316.4h.6M259.1 315.5h.6M241.9 307.7h.6M261.8 310.9h.6M244.3 309.0h.6M254.7 309.5h.6M250.9 310.5h.6M253.0 317.5h.6M247.6 312.7h.6M246.8 311.7h.6M254.1 311.4h.6M247.3 314.2h.6M275.6 314.3h.6M252.6 309.7h.6M250.7 316.4h.6M251.6 309.3h.6M247.4 311.5h.6M253.9 317.1h.6M258.4 311.3h.6M243.9 313.1h.6M256.0 316.0h.6M246.3 314.1h.6M255.7 315.5h.6M258.8 315.2h.6M259.8 313.0h.6M259.4 314.1h.6M250.3 314.9h.6M263.0 312.2h.6M252.4 316.8h.6M258.7 306.8h.6M261.6 309.7h.6M253.5 316.4h.6M245.7 313.5h.6M260.8 310.5h.6M247.0 313.4h.6M248.8 315.4h.6M247.1 310.8h.6M262.7 314.5h.6M254.6 312.0h.6M261.8 312.1h.6M272.5 315.4h.6M270.3 309.2h.6M251.4 311.3h.6M256.5 314.2h.6M260.0 308.9h.6M263.1 307.9h.6M256.2 313.9h.6M247.2 312.3h.6M262.0 311.9h.6M260.8 312.7h.6M245.3 309.6h.6M253.0 320.5h.6M258.1 309.6h.6M255.9 311.1h.6M260.1 308.3h.6M262.3 311.2h.6M260.2 316.6h.6M255.0 312.4h.6M245.1 314.0h.6M260.8 311.0h.6M267.1 317.4h.6M271.7 312.8h.6M255.6 308.8h.6M255.6 314.5h.6M267.5 311.3h.6M267.4 314.0h.6M270.5 315.7h.6M271.4 316.9h.6M270.5 316.7h.6M263.2 311.6h.6M259.0 315.5h.6M276.4 318.7h.6M268.6 314.7h.6M271.6 318.0h.6M266.3 318.4h.6M255.4 313.8h.6M260.6 316.2h.6M279.3 312.9h.6M264.1 317.6h.6M266.9 313.6h.6M259.3 312.0h.6M265.9 313.8h.6M266.9 313.7h.6M268.0 315.2h.6M269.0 315.5h.6M265.1 309.8h.6M265.5 311.6h.6M269.4 315.2h.6M271.8 315.6h.6M268.5 314.2h.6M281.7 323.1h.6M271.0 317.8h.6M270.7 313.7h.6M264.9 316.5h.6M276.7 318.6h.6M262.4 315.2h.6M258.2 307.8h.6M262.7 314.3h.6M273.8 314.1h.6M261.5 321.4h.6M278.6 307.5h.6M269.4 319.4h.6M258.9 313.4h.6M267.9 317.3h.6M282.0 313.0h.6M263.5 314.6h.6M260.3 318.0h.6M273.1 314.3h.6M278.6 317.7h.6M276.6 313.7h.6M267.2 312.6h.6M270.8 313.3h.6M271.8 312.3h.6M277.7 313.6h.6M284.5 318.8h.6M268.7 309.9h.6M278.6 308.2h.6M267.1 314.0h.6M273.6 319.9h.6M263.0 317.7h.6M264.2 318.7h.6M272.4 318.4h.6M263.2 311.5h.6M275.7 314.5h.6M265.6 304.7h.6M270.0 311.9h.6M268.9 316.2h.6M267.2 308.6h.6M270.4 306.9h.6M277.1 309.5h.6M261.2 318.2h.6M271.6 323.1h.6M268.3 319.1h.6M263.1 308.8h.6M271.5 306.0h.6M263.3 314.6h.6M269.0 317.8h.6M278.2 308.5h.6M255.4 312.3h.6M271.2 312.6h.6M272.6 314.3h.6M262.8 313.5h.6M273.2 316.0h.6M272.0 317.9h.6M267.1 314.4h.6M278.0 316.8h.6M260.3 321.2h.6M274.0 310.6h.6M267.9 310.5h.6M262.1 316.0h.6M268.3 320.7h.6M267.1 314.8h.6M275.2 318.1h.6M259.0 313.2h.6M268.1 317.4h.6M266.3 312.1h.6M280.5 316.6h.6M261.7 315.6h.6M276.9 315.6h.6M257.2 319.1h.6M271.9 318.0h.6M268.5 312.2h.6M272.1 317.4h.6M264.6 308.4h.6M255.8 317.8h.6M258.6 323.9h.6M278.6 316.2h.6M270.9 316.1h.6M263.4 314.6h.6M275.7 317.3h.6M264.2 312.8h.6M264.3 316.7h.6M260.9 313.4h.6M277.7 312.9h.6M283.1 314.8h.6M262.7 314.2h.6M271.4 308.3h.6M276.2 321.7h.6M284.2 314.9h.6M252.6 308.5h.6M270.4 318.2h.6M273.9 314.3h.6M259.0 315.2h.6M272.2 316.9h.6M270.7 311.3h.6M274.4 304.1h.6M265.3 314.1h.6M272.3 315.3h.6M265.1 317.9h.6M273.6 311.8h.6M270.4 313.5h.6M266.7 315.8h.6M259.4 313.3h.6M280.9 313.6h.6M277.1 315.3h.6M275.5 311.0h.6M264.7 320.0h.6M266.9 311.2h.6M281.0 314.6h.6M274.5 313.3h.6M263.4 312.0h.6M269.7 316.3h.6M270.3 318.0h.6M267.9 319.5h.6M262.7 316.5h.6M278.1 312.9h.6M273.5 317.4h.6M268.0 309.4h.6M258.4 314.6h.6M265.3 316.3h.6M269.3 316.4h.6M275.5 310.4h.6M266.8 309.2h.6M277.2 320.2h.6M270.4 312.6h.6M264.2 308.6h.6M249.9 310.0h.6M261.2 314.4h.6M259.0 318.5h.6M268.4 314.4h.6M271.8 318.6h.6M279.2 315.1h.6M269.4 316.0h.6M261.3 317.8h.6M285.9 313.0h.6M271.6 315.4h.6M267.6 313.0h.6M267.6 312.1h.6M260.0 316.6h.6M273.9 311.4h.6M272.1 314.6h.6M280.6 311.5h.6M277.2 314.0h.6M275.6 312.4h.6M278.3 318.1h.6M267.5 314.6h.6M266.4 314.5h.6M269.2 320.0h.6M260.8 304.1h.6M268.5 310.3h.6M267.2 304.6h.6M274.2 314.2h.6M269.5 315.7h.6M256.2 316.5h.6M269.8 315.1h.6M279.5 311.1h.6M256.7 320.3h.6M264.3 315.2h.6M269.7 313.2h.6M260.3 310.2h.6M265.8 315.6h.6M270.0 312.4h.6M260.4 312.6h.6M271.7 314.9h.6M272.5 314.9h.6M260.8 311.2h.6M269.8 318.5h.6M277.2 310.6h.6M268.4 310.2h.6M272.7 315.2h.6M274.2 314.5h.6M268.0 314.3h.6M276.6 312.7h.6M272.4 314.2h.6M262.8 312.1h.6M267.9 314.7h.6M279.8 308.5h.6M271.0 316.3h.6M275.0 317.1h.6M279.8 315.2h.6M276.2 311.7h.6M269.1 319.5h.6M272.4 315.9h.6M276.5 321.9h.6M282.9 318.5h.6M274.8 318.1h.6M268.9 320.6h.6M281.8 312.4h.6M271.5 312.9h.6M275.1 317.1h.6M280.5 317.1h.6M272.7 321.1h.6M273.8 319.6h.6M278.5 315.7h.6M275.0 315.9h.6M277.5 313.9h.6M271.3 313.6h.6M275.5 313.2h.6M270.6 318.7h.6M268.3 313.2h.6M284.8 313.6h.6M278.3 315.7h.6M280.6 313.0h.6M271.2 314.2h.6M275.9 306.3h.6M275.0 316.6h.6M268.9 313.9h.6M278.8 315.9h.6M272.4 316.6h.6M275.0 307.7h.6M268.4 324.8h.6M281.0 315.8h.6M279.8 315.9h.6M278.0 308.1h.6M271.5 317.8h.6M273.3 317.0h.6M282.1 313.9h.6M274.6 316.4h.6M277.4 320.6h.6M276.7 314.1h.6M270.4 311.9h.6M283.6 320.8h.6M266.1 316.6h.6M277.1 314.8h.6" stroke="#000" stroke-width="0.6" stroke-opacity="0.35" fill="none"/></g>
<rect x="266.4" y="299.4" width="22.3" height="25.8" rx="0.5" fill="none" stroke="#555" stroke-width="0.85"/>
<text x="277.9" y="297.7" font-size="8.2" text-anchor="middle" fill="#1a1a1a" stroke="#1a1a1a" stroke-width="0.1" textLength="15.1" lengthAdjust="spacingAndGlyphs">11.4</text>
<path d="M240.2 294.88h1.3M240.2 305.55h1.3M240.2 316.22h1.3M240.2 326.88h1.3" stroke="#333" stroke-width="0.8" fill="none"/>
<path d="M240.8 333.49v2.2" stroke="#111" stroke-width="1.2" fill="none"/>
<path d="M245 340.8v1.3M246.5 340.8v1.3M248 340.8v1.3M249.5 340.8v1.3M251 340.8v1.3M252.5 340.8v1.3M256.2 340.8v1.3M257.7 340.8v1.3M259.2 340.8v1.3M260.7 340.8v1.3M262.2 340.8v1.3M263.7 340.8v1.3M267.4 340.8v1.3M268.9 340.8v1.3M270.4 340.8v1.3M271.9 340.8v1.3M273.4 340.8v1.3M274.9 340.8v1.3M278.6 340.8v1.3M280.1 340.8v1.3M281.6 340.8v1.3M283.1 340.8v1.3M284.6 340.8v1.3M286.1 340.8v1.3" stroke="#444" stroke-width="0.7" fill="none"/>
<path d="M245 341.6h8.5" stroke="#222" stroke-width="0.8" stroke-dasharray="1 .6" fill="none"/>
<rect x="180.5" y="357.4" width="51.7" height="54.1" fill="none" stroke="#d0d0d0" stroke-width="0.9"/>
<clipPath id="fc180357"><rect x="180.5" y="357.4" width="51.7" height="54.1"/></clipPath>
<g clip-path="url(#fc180357)"><ellipse cx="200" cy="384" rx="13" ry="6" fill="#000" fill-opacity="0.25" filter="url(#fb2)"/><ellipse cx="193.6" cy="382.9" rx="7.5" ry="4.3" fill="#000" fill-opacity="0.85" filter="url(#fb1)"/><ellipse cx="209" cy="383.8" rx="8" ry="3.2" fill="#000" fill-opacity="0.3" filter="url(#fb1)"/><path d="M208.7 373.2h.6M195.8 386.0h.6M193.8 382.7h.6M196.5 388.2h.6M192.5 384.4h.6M196.2 382.6h.6M195.8 383.8h.6M190.9 386.6h.6M193.3 384.1h.6M196.7 383.6h.6M197.1 378.5h.6M198.3 385.1h.6M199.5 383.6h.6M196.3 389.7h.6M197.9 383.4h.6M192.5 383.2h.6M193.2 381.3h.6M201.0 385.9h.6M182.9 382.8h.6M197.0 381.1h.6M213.7 388.9h.6M183.6 389.6h.6M203.7 381.9h.6M184.1 380.0h.6M196.8 387.3h.6M204.3 380.6h.6M203.5 393.1h.6M189.1 383.0h.6M186.7 386.8h.6M185.8 379.1h.6M198.7 383.4h.6M192.1 387.2h.6M194.4 385.0h.6M195.9 381.7h.6M196.8 391.9h.6M197.5 386.0h.6M195.1 382.7h.6M184.7 381.5h.6M203.0 382.6h.6M201.7 380.9h.6M190.7 383.6h.6M193.1 380.7h.6M191.1 387.8h.6M192.0 383.0h.6M194.1 386.5h.6M192.6 385.5h.6M187.7 381.5h.6M199.3 385.9h.6M190.8 386.7h.6M202.3 379.6h.6M193.3 385.9h.6M190.0 395.7h.6M196.8 382.5h.6M199.6 385.7h.6M188.7 379.0h.6M192.5 385.1h.6M202.8 381.5h.6M188.2 386.2h.6M189.1 383.4h.6M195.2 379.5h.6M186.9 387.3h.6M184.2 380.1h.6M196.5 383.8h.6M198.2 380.2h.6M197.8 384.9h.6M196.6 383.3h.6M186.8 382.3h.6M198.3 385.8h.6M201.1 379.2h.6M190.0 386.9h.6M199.9 376.7h.6M192.0 389.0h.6M195.4 384.2h.6M196.4 382.6h.6M185.3 381.0h.6M203.0 385.4h.6M189.1 383.0h.6M193.6 382.9h.6M191.3 387.1h.6M197.0 382.0h.6M196.8 382.7h.6M194.4 385.0h.6M202.7 387.2h.6M195.9 383.0h.6M191.8 384.1h.6M192.6 386.1h.6M192.5 388.7h.6M189.0 380.3h.6M189.1 383.1h.6M197.8 383.4h.6M200.5 385.6h.6M205.6 388.7h.6M201.1 383.5h.6M190.0 384.3h.6M195.8 387.4h.6M186.1 379.3h.6M198.6 380.9h.6M196.4 382.0h.6M190.6 383.5h.6M193.6 384.3h.6M192.7 381.7h.6M190.4 389.6h.6M202.2 381.1h.6M212.9 382.8h.6M199.2 387.3h.6M200.6 386.2h.6M195.2 383.5h.6M192.2 384.8h.6M207.4 386.3h.6M192.1 383.5h.6M196.6 385.7h.6M193.5 380.4h.6M197.8 383.7h.6M194.0 377.8h.6M197.8 380.4h.6M186.7 379.6h.6M193.7 387.8h.6M202.5 381.9h.6M188.1 384.5h.6M190.3 380.3h.6M202.5 382.8h.6M196.7 382.5h.6M200.7 380.5h.6M195.1 377.7h.6M186.6 385.6h.6M185.9 392.6h.6M196.7 380.6h.6M201.4 383.5h.6M185.3 378.1h.6M187.6 383.3h.6M190.7 377.4h.6M193.5 385.6h.6M186.2 381.7h.6M207.8 377.0h.6M197.8 378.9h.6M192.1 377.9h.6M191.1 382.4h.6M208.2 386.3h.6M207.7 382.0h.6M191.3 379.2h.6M196.3 380.4h.6M201.8 383.7h.6M187.1 374.9h.6M190.7 385.3h.6M202.3 384.7h.6M190.0 374.7h.6M191.6 387.3h.6M186.1 377.6h.6M189.6 382.5h.6M198.3 387.3h.6M189.2 377.5h.6M186.3 376.8h.6M190.4 379.3h.6M204.8 379.4h.6M195.2 382.7h.6M190.7 381.3h.6M195.0 381.4h.6M196.8 381.5h.6M194.8 382.5h.6M183.2 380.2h.6M195.9 384.3h.6M192.8 383.1h.6M199.2 379.6h.6M185.9 389.5h.6M200.4 378.7h.6M191.1 385.7h.6M183.8 380.6h.6M202.1 384.4h.6M190.9 385.0h.6M196.3 386.1h.6M193.1 388.1h.6M200.6 380.2h.6M200.7 393.1h.6M200.8 384.6h.6M198.3 380.4h.6M184.3 378.5h.6M183.9 391.3h.6M195.2 388.9h.6M188.2 383.2h.6M196.8 385.9h.6M195.0 387.8h.6M185.5 383.6h.6M187.7 381.8h.6M187.1 383.1h.6M188.6 386.2h.6M192.7 383.3h.6M198.1 379.0h.6M202.1 385.9h.6M188.1 377.3h.6M190.6 380.7h.6M203.4 387.6h.6M199.4 384.1h.6M195.4 384.1h.6M187.9 386.8h.6M194.9 383.1h.6M190.4 376.5h.6M206.0 384.1h.6M194.5 372.6h.6M195.7 376.1h.6M187.3 388.8h.6M187.7 386.9h.6M189.9 381.6h.6M190.2 383.0h.6M192.6 383.5h.6M196.2 386.7h.6M195.4 380.6h.6M200.0 380.2h.6M185.8 381.1h.6M195.3 383.7h.6M195.4 384.2h.6M203.6 381.9h.6M192.7 385.9h.6M196.0 379.7h.6M189.0 383.0h.6M196.5 380.8h.6M196.4 379.7h.6M190.2 387.5h.6M191.3 382.1h.6M193.8 379.7h.6M197.5 383.4h.6M187.0 379.8h.6M199.3 385.3h.6M192.0 386.2h.6M205.5 386.8h.6M202.8 379.6h.6M191.5 382.7h.6M190.2 389.7h.6M208.9 382.5h.6M197.8 387.6h.6M197.4 388.6h.6M191.4 378.4h.6M193.2 387.5h.6M198.9 385.9h.6M197.7 386.3h.6M189.0 389.1h.6M201.5 384.9h.6M195.9 383.5h.6M188.2 385.4h.6M200.0 382.1h.6M192.9 385.0h.6M198.7 376.3h.6M190.6 389.3h.6M196.2 381.4h.6M184.1 385.1h.6M196.2 384.3h.6M184.8 383.6h.6M195.0 383.6h.6M193.6 377.6h.6M198.4 381.4h.6M196.9 387.4h.6M201.2 379.7h.6M187.5 379.6h.6M203.5 390.6h.6M203.7 387.4h.6M186.7 388.7h.6M189.2 383.2h.6M190.5 384.2h.6M193.8 385.9h.6M195.1 385.2h.6M197.6 378.2h.6M192.4 380.7h.6M187.8 378.0h.6M199.7 388.7h.6M191.9 381.8h.6M200.9 382.6h.6M197.2 384.2h.6M192.0 383.3h.6M201.1 385.0h.6M198.9 381.0h.6M190.9 377.9h.6M184.2 389.3h.6M190.7 380.7h.6M197.7 381.5h.6M192.5 380.4h.6M204.6 381.3h.6M195.6 383.2h.6M195.1 385.7h.6M196.4 379.5h.6M188.6 384.1h.6M193.2 380.8h.6M190.0 387.3h.6M183.2 383.5h.6M198.4 385.6h.6M191.3 378.4h.6M193.2 383.5h.6M185.0 383.6h.6M190.4 380.4h.6M198.7 382.4h.6M194.6 386.5h.6M190.8 384.0h.6M203.2 381.7h.6M193.6 382.4h.6M191.8 384.6h.6M200.9 387.5h.6M183.5 385.8h.6M197.3 385.6h.6M187.2 388.5h.6M189.2 377.8h.6M189.8 378.1h.6M194.7 375.3h.6M194.6 385.9h.6M195.8 375.2h.6M195.2 382.9h.6M202.4 385.7h.6M204.2 378.3h.6M198.3 380.8h.6M198.5 382.1h.6M191.7 385.6h.6M187.3 377.8h.6M197.5 384.1h.6M194.2 385.4h.6M199.2 383.5h.6M182.9 383.6h.6M210.2 387.3h.6M186.3 383.8h.6M194.2 383.0h.6M200.0 381.9h.6M185.6 385.3h.6M190.6 382.0h.6M181.8 385.3h.6M185.3 383.4h.6M182.3 386.9h.6M194.6 380.3h.6M195.8 383.3h.6M192.1 384.2h.6M201.6 384.4h.6M202.4 386.9h.6M193.9 384.4h.6M192.7 386.1h.6M192.3 389.7h.6M191.3 385.9h.6M201.9 379.4h.6M195.4 378.1h.6M192.0 385.3h.6M192.6 381.7h.6M197.3 384.0h.6M191.6 382.4h.6M195.9 387.5h.6M193.8 387.1h.6M202.2 379.2h.6M201.0 383.9h.6M185.4 382.0h.6M193.0 378.5h.6M198.3 385.2h.6M191.3 382.5h.6M198.9 384.5h.6M196.0 391.5h.6M197.6 387.5h.6M193.6 386.8h.6M195.8 381.6h.6M197.2 379.0h.6M185.1 387.3h.6M188.5 382.0h.6M187.9 383.2h.6M204.2 381.7h.6M195.8 383.3h.6M196.3 391.2h.6M195.1 381.9h.6M190.9 382.0h.6M189.5 383.7h.6M199.1 384.0h.6M191.8 378.9h.6M203.6 377.0h.6M195.2 381.0h.6M194.6 382.3h.6M192.7 380.3h.6M193.6 379.6h.6M194.2 379.8h.6M203.2 381.6h.6M208.1 382.5h.6M187.1 377.4h.6M195.6 381.1h.6M198.3 384.1h.6M188.6 382.5h.6M190.2 378.3h.6M191.3 381.7h.6M198.0 385.5h.6M193.8 377.4h.6M193.5 385.2h.6M194.5 381.3h.6M195.5 383.6h.6M208.0 385.2h.6M195.1 379.9h.6M199.1 380.2h.6M190.9 382.5h.6M196.2 385.4h.6M192.2 381.0h.6M193.2 378.1h.6M188.6 380.5h.6M189.1 384.2h.6M196.8 386.8h.6M198.6 381.2h.6M196.8 381.8h.6M190.0 382.3h.6M196.0 382.4h.6M199.8 381.4h.6M193.9 383.6h.6M195.7 383.2h.6M201.1 382.9h.6M191.6 379.4h.6M199.9 381.0h.6M191.5 380.4h.6M197.4 386.4h.6M191.7 387.8h.6M195.9 384.0h.6M202.9 388.3h.6M190.2 381.9h.6M190.4 381.9h.6M192.2 378.5h.6M195.9 383.6h.6M210.7 381.3h.6M190.7 383.2h.6M181.9 384.5h.6M190.2 382.0h.6M184.6 379.1h.6M190.8 382.7h.6M194.3 382.6h.6M188.4 383.0h.6M190.1 385.2h.6M182.9 382.2h.6M195.3 382.0h.6M189.7 388.7h.6M200.7 386.5h.6M200.5 382.6h.6M189.0 379.7h.6M192.0 381.4h.6M194.5 384.2h.6M198.8 385.7h.6M184.1 391.0h.6M193.8 382.1h.6M205.4 383.4h.6M193.7 381.7h.6M195.5 383.2h.6M194.2 381.7h.6M187.1 379.3h.6M199.9 386.4h.6M195.8 383.4h.6M195.2 387.3h.6M198.6 381.3h.6M199.0 383.9h.6M182.8 385.2h.6M197.1 376.7h.6M190.7 378.5h.6M195.2 385.5h.6M190.0 383.3h.6M189.1 376.8h.6M200.0 380.5h.6M194.2 379.5h.6M192.6 381.4h.6M192.6 388.2h.6M194.8 381.1h.6M194.2 389.8h.6M189.1 380.6h.6M192.9 388.3h.6M198.8 386.2h.6M202.5 387.7h.6M188.7 389.6h.6M206.0 386.6h.6M194.9 387.2h.6M197.3 377.3h.6M191.2 380.3h.6M190.8 384.6h.6M203.0 383.8h.6M193.1 385.5h.6M193.8 381.5h.6M201.4 386.8h.6M204.8 389.9h.6M185.4 385.1h.6M193.3 385.9h.6M194.4 384.8h.6M205.4 386.3h.6M209.3 383.9h.6M194.2 381.5h.6M196.8 383.8h.6M199.7 383.5h.6M201.4 378.0h.6M192.6 383.9h.6M199.7 383.3h.6M190.3 383.9h.6M186.3 384.8h.6M195.9 385.3h.6M199.3 380.8h.6M183.7 385.8h.6M194.4 385.7h.6M198.0 379.7h.6M200.9 383.2h.6M200.0 379.2h.6M228.0 385.0h.6M201.8 380.1h.6M201.9 382.7h.6M213.3 389.7h.6M204.4 383.5h.6M189.6 375.0h.6M206.9 378.4h.6M200.2 379.4h.6M203.9 388.1h.6M195.2 381.2h.6M200.8 377.8h.6M206.6 388.5h.6M207.3 385.0h.6M199.0 385.4h.6M202.1 380.8h.6M201.0 389.7h.6M208.8 383.5h.6M206.5 376.1h.6M197.8 379.4h.6M212.7 380.6h.6M202.1 383.4h.6M210.7 387.1h.6M200.4 381.1h.6M209.9 381.6h.6M206.6 392.8h.6M208.0 384.3h.6M211.5 381.9h.6M211.0 384.1h.6M208.9 379.0h.6M208.8 386.1h.6M197.5 387.9h.6M207.0 381.7h.6M190.2 388.0h.6M189.8 382.8h.6M205.1 385.2h.6M205.8 381.0h.6M219.3 380.8h.6M212.8 378.0h.6M216.3 384.9h.6M205.1 382.9h.6M211.1 383.0h.6M216.8 379.5h.6M211.8 379.3h.6M210.4 381.5h.6M208.4 385.9h.6M200.4 385.2h.6M200.6 381.3h.6M196.4 385.2h.6M210.9 391.0h.6M205.6 384.4h.6M202.4 392.1h.6M210.5 385.7h.6M203.2 389.3h.6M216.0 381.9h.6M222.8 388.7h.6M211.3 379.3h.6M202.3 385.0h.6M196.0 382.7h.6M223.7 376.0h.6M211.4 378.5h.6M198.5 388.5h.6M216.3 386.0h.6M194.6 389.2h.6M204.3 384.8h.6M205.9 372.4h.6M205.0 385.0h.6M198.8 381.7h.6M226.8 382.0h.6M204.7 382.2h.6M210.9 380.9h.6M208.1 380.2h.6M195.2 389.0h.6M203.5 385.8h.6M209.5 381.4h.6M215.2 382.3h.6M205.1 387.9h.6M210.8 385.5h.6M205.2 384.8h.6M212.5 379.1h.6M188.3 382.2h.6M212.6 379.4h.6M202.9 376.3h.6M203.3 387.6h.6M185.3 382.7h.6M199.4 382.3h.6M212.7 380.1h.6M226.2 387.0h.6M202.3 392.3h.6M202.7 386.3h.6M211.8 387.7h.6M210.2 379.0h.6M203.2 384.7h.6M206.6 384.8h.6M204.9 389.9h.6M212.8 384.0h.6M214.2 380.2h.6M221.9 383.7h.6M215.2 382.2h.6M213.2 389.7h.6M209.2 386.6h.6M215.4 385.3h.6M200.1 384.7h.6M225.1 387.3h.6M210.2 382.0h.6M219.2 380.3h.6M201.6 376.4h.6M216.2 388.7h.6M211.2 386.0h.6M206.5 386.5h.6M202.7 384.1h.6M201.0 390.6h.6M222.3 380.0h.6M217.7 388.8h.6M208.9 380.6h.6M209.5 382.1h.6M202.2 379.1h.6M193.4 384.3h.6M193.7 382.8h.6M203.2 385.7h.6M206.8 381.6h.6M198.7 378.4h.6M214.3 386.2h.6M212.1 389.1h.6M209.3 386.9h.6M194.0 383.7h.6M206.3 385.5h.6M207.8 377.1h.6M197.9 382.6h.6M190.6 388.6h.6M223.3 385.8h.6M212.9 380.5h.6M204.9 387.3h.6M220.7 383.4h.6M216.9 386.8h.6M211.6 378.3h.6M209.8 381.8h.6M214.2 385.2h.6M219.7 385.1h.6M208.6 386.1h.6M206.2 383.9h.6M212.6 383.1h.6M185.5 385.8h.6M208.7 387.4h.6M204.7 377.9h.6M207.9 382.6h.6M206.5 383.1h.6M210.7 384.5h.6M208.8 388.0h.6M208.5 378.6h.6M206.9 386.0h.6M211.6 377.0h.6M203.9 380.9h.6M215.9 381.8h.6M194.5 382.8h.6M209.6 381.5h.6M211.6 381.9h.6M197.8 382.5h.6M204.6 382.8h.6M218.6 376.6h.6M206.9 378.3h.6M200.9 382.2h.6M184.2 386.0h.6M210.7 387.9h.6M208.8 395.3h.6M212.9 384.3h.6M224.4 380.8h.6M208.0 384.6h.6M209.1 386.6h.6M202.5 384.5h.6M207.5 379.7h.6M207.8 383.5h.6M214.0 383.8h.6M212.4 378.3h.6M201.9 379.1h.6M204.2 388.7h.6M219.0 375.0h.6M200.3 384.6h.6M214.0 382.9h.6M221.0 389.4h.6M213.2 386.3h.6M210.0 380.5h.6M218.9 388.9h.6M210.8 381.7h.6M207.9 391.8h.6M206.4 390.5h.6M217.2 383.6h.6M213.6 387.0h.6M220.4 384.7h.6M205.3 380.3h.6M205.5 388.2h.6M204.5 385.6h.6M210.2 387.3h.6M202.5 388.2h.6M215.4 389.6h.6M210.7 388.1h.6M200.1 383.6h.6M184.3 384.3h.6M193.4 385.6h.6M219.5 383.5h.6M207.5 383.0h.6M209.2 391.4h.6M204.6 385.9h.6M211.1 391.5h.6M192.6 380.9h.6M192.0 383.8h.6M194.9 382.3h.6M208.5 382.4h.6M213.6 382.8h.6M211.8 383.5h.6M207.0 382.3h.6M197.7 391.1h.6M214.3 386.7h.6M205.7 381.0h.6M207.8 381.8h.6M207.4 386.9h.6M204.2 386.1h.6M202.2 381.6h.6M203.2 387.7h.6M197.6 378.3h.6M210.0 382.1h.6M206.6 390.8h.6M216.1 373.7h.6M193.5 383.2h.6M217.3 387.9h.6M207.4 383.4h.6M206.7 380.9h.6M201.5 380.5h.6M201.4 375.8h.6M196.0 378.7h.6M215.2 384.3h.6M206.3 381.7h.6M213.7 383.9h.6M214.6 383.4h.6M204.0 385.1h.6M206.1 377.4h.6M205.2 382.8h.6M216.2 382.7h.6M209.0 382.8h.6M209.3 380.5h.6M213.7 375.3h.6M207.4 386.5h.6M224.3 387.2h.6M200.6 393.4h.6M218.0 386.9h.6M219.2 390.5h.6M198.8 386.4h.6M214.9 382.5h.6M210.2 386.0h.6M215.0 379.4h.6M217.4 393.1h.6M215.3 386.5h.6M209.7 384.2h.6M223.3 378.8h.6M222.6 387.5h.6M218.7 385.2h.6M220.8 386.0h.6M225.8 390.1h.6M215.2 388.8h.6M208.0 385.2h.6M210.3 386.3h.6M220.2 385.6h.6M217.4 388.8h.6M207.2 388.6h.6M223.9 385.9h.6M217.3 380.9h.6M225.6 389.4h.6M222.7 389.7h.6M213.4 379.8h.6M216.6 387.1h.6M211.7 383.2h.6M211.0 374.3h.6M214.3 384.9h.6M219.0 389.9h.6M224.2 381.5h.6M210.8 381.6h.6M220.2 390.2h.6M216.3 379.7h.6M214.8 380.4h.6M222.8 383.5h.6M214.0 388.2h.6M224.3 388.3h.6M214.1 382.5h.6M210.6 383.6h.6M220.7 385.6h.6M207.5 383.2h.6M209.1 380.8h.6M215.0 379.7h.6M216.2 388.7h.6M214.6 384.0h.6M204.4 399.4h.6M208.2 388.2h.6M219.2 381.4h.6M219.4 385.1h.6M210.2 386.8h.6M217.8 387.1h.6M217.4 387.3h.6M222.2 387.4h.6M211.8 384.4h.6M224.9 388.4h.6M214.4 396.0h.6M224.8 382.9h.6M221.7 383.2h.6M210.2 388.6h.6M214.3 391.3h.6M217.9 389.2h.6M222.3 391.2h.6M207.9 384.9h.6M213.2 384.0h.6M219.9 388.4h.6M219.1 388.5h.6M209.9 393.4h.6M210.8 392.9h.6M218.8 376.0h.6M210.1 389.0h.6M217.6 381.8h.6M221.7 374.6h.6M216.3 387.1h.6M200.2 384.3h.6M223.2 383.4h.6M223.1 378.7h.6M224.7 380.0h.6M221.3 384.0h.6M206.2 377.6h.6M224.7 384.5h.6M218.3 385.6h.6M221.8 384.3h.6M215.3 386.6h.6M214.7 384.7h.6M214.8 379.3h.6" stroke="#000" stroke-width="0.6" stroke-opacity="0.35" fill="none"/></g>
<rect x="207.3" y="368.2" width="22.4" height="27.7" rx="0.5" fill="none" stroke="#555" stroke-width="0.85"/>
<text x="219.2" y="366.5" font-size="8.2" text-anchor="middle" fill="#1a1a1a" stroke="#1a1a1a" stroke-width="0.1" textLength="11.3" lengthAdjust="spacingAndGlyphs">7.0</text>
<path d="M180.2 362.81h1.3M180.2 374.17h1.3M180.2 385.53h1.3M180.2 396.89h1.3" stroke="#333" stroke-width="0.8" fill="none"/>
<path d="M180.8 403.93v2.2" stroke="#111" stroke-width="1.2" fill="none"/>
<path d="M185 411.7v1.3M186.5 411.7v1.3M188 411.7v1.3M189.5 411.7v1.3M191 411.7v1.3M192.5 411.7v1.3M196.2 411.7v1.3M197.7 411.7v1.3M199.2 411.7v1.3M200.7 411.7v1.3M202.2 411.7v1.3M203.7 411.7v1.3M207.4 411.7v1.3M208.9 411.7v1.3M210.4 411.7v1.3M211.9 411.7v1.3M213.4 411.7v1.3M214.9 411.7v1.3M218.6 411.7v1.3M220.1 411.7v1.3M221.6 411.7v1.3M223.1 411.7v1.3M224.6 411.7v1.3M226.1 411.7v1.3" stroke="#444" stroke-width="0.7" fill="none"/>
<path d="M185 412.5h8.5" stroke="#222" stroke-width="0.8" stroke-dasharray="1 .6" fill="none"/>
<rect x="240.5" y="357.4" width="50.1" height="54.1" fill="none" stroke="#d0d0d0" stroke-width="0.9"/>
<clipPath id="fc240357"><rect x="240.5" y="357.4" width="50.1" height="54.1"/></clipPath>
<g clip-path="url(#fc240357)"><ellipse cx="262" cy="382.5" rx="18" ry="6" fill="#000" fill-opacity="0.2" filter="url(#fb2)"/><ellipse cx="263" cy="381.2" rx="14" ry="2.6" fill="#000" fill-opacity="0.5" filter="url(#fb1)"/><path d="M251.8 374.9h.6M263.4 375.1h.6M271.7 384.3h.6M263.6 378.9h.6M257.1 386.4h.6M263.7 379.7h.6M244.0 383.1h.6M252.1 377.4h.6M258.3 380.0h.6M261.4 381.3h.6M258.8 383.9h.6M259.3 387.4h.6M250.2 385.1h.6M256.3 377.4h.6M264.5 382.0h.6M243.7 381.5h.6M250.0 380.0h.6M258.5 383.9h.6M276.8 387.0h.6M268.7 380.5h.6M277.6 385.6h.6M275.4 386.5h.6M257.5 378.6h.6M261.3 387.7h.6M250.3 387.4h.6M273.7 382.9h.6M269.3 387.5h.6M267.9 382.8h.6M268.6 385.7h.6M266.6 384.1h.6M264.1 379.2h.6M264.8 382.8h.6M274.1 381.5h.6M254.2 380.4h.6M251.6 378.3h.6M262.0 379.5h.6M273.6 378.1h.6M264.4 385.6h.6M260.0 375.7h.6M270.3 382.2h.6M263.1 380.0h.6M243.1 378.0h.6M252.0 384.3h.6M259.8 385.9h.6M257.6 381.4h.6M266.4 383.1h.6M283.1 381.6h.6M256.1 384.1h.6M262.1 385.0h.6M258.2 380.6h.6M254.5 387.6h.6M254.9 380.2h.6M264.8 387.8h.6M253.7 380.7h.6M249.2 380.2h.6M267.9 376.6h.6M261.4 379.3h.6M253.1 376.4h.6M254.5 380.2h.6M259.1 384.2h.6M270.2 381.8h.6M276.2 380.1h.6M249.0 378.7h.6M273.7 379.8h.6M262.6 377.3h.6M265.7 377.9h.6M271.7 388.2h.6M252.5 382.8h.6M270.6 379.1h.6M249.1 384.1h.6M257.4 386.8h.6M253.6 380.0h.6M278.9 381.7h.6M278.4 378.0h.6M269.6 376.9h.6M267.2 386.4h.6M256.8 393.0h.6M279.4 379.6h.6M276.0 376.8h.6M271.1 386.5h.6M261.0 385.4h.6M258.7 383.5h.6M261.3 386.7h.6M275.4 380.9h.6M252.8 382.9h.6M263.3 384.5h.6M278.4 381.0h.6M271.0 383.5h.6M279.5 381.2h.6M266.3 383.5h.6M266.5 382.5h.6M276.0 375.7h.6M268.8 382.3h.6M265.7 377.4h.6M257.2 379.3h.6M247.6 376.7h.6M277.1 384.6h.6M258.2 380.9h.6M255.0 380.8h.6M271.0 386.0h.6M253.6 384.3h.6M249.0 381.3h.6M256.7 375.3h.6M261.8 384.1h.6M265.1 381.1h.6M267.5 380.8h.6M272.0 384.3h.6M261.3 380.0h.6M266.1 381.7h.6M261.4 384.8h.6M256.1 383.8h.6M266.5 380.0h.6M266.0 386.6h.6M280.8 385.7h.6M268.4 388.0h.6M255.6 381.8h.6M268.4 382.7h.6M260.0 385.4h.6M278.1 383.4h.6M245.6 382.4h.6M255.9 381.7h.6M256.0 381.0h.6M263.7 379.9h.6M261.2 379.9h.6M246.8 383.3h.6M244.1 381.0h.6M264.3 377.5h.6M277.0 382.2h.6M276.9 387.3h.6M258.6 386.4h.6M267.1 375.6h.6M254.0 379.3h.6M248.2 384.5h.6M274.6 382.3h.6M269.2 382.2h.6M259.2 381.6h.6M258.8 382.2h.6M271.6 378.8h.6M265.7 385.8h.6M259.2 378.7h.6M265.3 381.6h.6M262.4 386.9h.6M258.5 385.5h.6M255.5 382.0h.6M271.7 382.0h.6M257.9 380.1h.6M250.9 380.4h.6M280.4 381.3h.6M274.9 386.3h.6M267.7 380.6h.6M261.9 383.8h.6M264.5 383.4h.6M248.3 383.3h.6M262.4 381.1h.6M265.3 384.4h.6M260.6 382.6h.6M266.8 382.4h.6M255.0 380.5h.6M264.3 375.2h.6M247.1 384.4h.6M262.2 384.5h.6M256.4 380.5h.6M249.4 381.5h.6M258.5 383.0h.6M262.6 379.0h.6M256.6 384.3h.6M271.5 384.3h.6M255.6 384.8h.6M271.6 385.0h.6M269.6 376.0h.6M256.5 383.7h.6M276.5 380.7h.6M249.0 385.6h.6M267.6 385.5h.6M263.0 384.7h.6M269.9 381.8h.6M247.0 391.0h.6M250.6 381.9h.6M254.2 378.8h.6M262.5 385.2h.6M263.1 377.5h.6M262.4 388.2h.6M259.7 385.3h.6M255.3 386.3h.6M248.8 385.4h.6M258.0 383.4h.6M267.4 377.9h.6M272.1 380.2h.6M257.2 383.9h.6M272.7 381.5h.6M248.9 383.3h.6M269.8 380.0h.6M251.5 379.6h.6M264.5 383.1h.6M252.8 384.5h.6M252.6 382.2h.6M256.8 379.0h.6M276.0 376.9h.6M255.6 388.6h.6M268.2 378.5h.6M263.6 379.4h.6M265.1 379.8h.6M265.2 385.0h.6M268.3 379.7h.6M250.4 383.8h.6M262.5 383.0h.6M265.5 378.5h.6M256.4 382.6h.6M265.6 378.2h.6M252.1 381.6h.6M269.2 384.4h.6M255.3 381.3h.6M259.4 379.2h.6M269.9 380.7h.6M272.7 381.5h.6M256.6 383.1h.6M255.9 374.8h.6M271.8 376.2h.6M275.2 381.7h.6M274.8 382.1h.6M251.7 382.7h.6M273.8 381.5h.6M265.7 380.6h.6M266.6 382.4h.6M257.3 383.1h.6M260.2 382.1h.6M258.1 378.7h.6M258.3 382.7h.6M259.3 378.3h.6M260.1 382.5h.6M255.3 382.4h.6M261.2 385.4h.6M257.2 384.8h.6M262.0 383.5h.6M264.8 381.0h.6M279.4 381.9h.6M254.0 381.2h.6M278.6 387.5h.6M259.7 383.4h.6M253.3 379.9h.6M247.9 379.3h.6M270.5 385.9h.6M247.2 379.2h.6M271.0 383.2h.6M265.4 382.6h.6M256.5 385.4h.6M255.5 379.2h.6M266.8 383.5h.6M263.5 382.6h.6M269.3 384.5h.6M262.0 386.3h.6M257.0 382.3h.6M267.3 381.3h.6M250.3 384.8h.6M270.3 377.6h.6M262.6 382.6h.6M251.1 378.9h.6M252.1 378.2h.6M258.8 377.0h.6M244.2 376.8h.6M275.7 384.6h.6M271.5 384.8h.6M251.3 382.3h.6M260.9 385.3h.6M278.6 382.1h.6M266.0 380.5h.6M252.0 378.6h.6M245.9 384.6h.6M273.7 386.0h.6M265.1 379.5h.6M249.1 381.1h.6M269.0 377.8h.6M258.4 385.7h.6M255.4 384.3h.6M256.9 383.7h.6M257.4 382.0h.6M278.5 381.6h.6M252.7 380.9h.6M258.0 385.5h.6M275.2 380.1h.6M276.9 384.9h.6M252.3 383.0h.6M282.4 378.9h.6M272.9 377.5h.6M247.3 379.6h.6M279.9 381.9h.6M247.4 378.0h.6M268.7 384.0h.6M250.6 385.7h.6M244.4 383.8h.6M270.4 376.7h.6M266.2 374.6h.6M261.2 384.8h.6M263.9 386.8h.6M261.0 380.8h.6M259.5 383.7h.6M251.4 381.2h.6M267.8 380.0h.6M262.2 385.2h.6M259.6 380.3h.6M256.4 384.8h.6M259.2 387.5h.6M247.0 381.7h.6M258.9 388.0h.6M252.3 377.9h.6M274.7 385.0h.6M252.6 382.1h.6M257.5 390.2h.6M262.2 382.2h.6M269.9 379.5h.6M266.6 387.2h.6M262.2 377.2h.6M283.4 383.5h.6M261.8 379.6h.6M265.2 386.5h.6M289.1 381.7h.6M253.2 384.8h.6M271.6 381.9h.6M266.4 378.6h.6M249.0 375.2h.6M255.8 387.7h.6M270.3 382.8h.6M247.6 378.4h.6M260.2 381.1h.6M271.3 385.2h.6M259.7 377.3h.6M264.7 389.3h.6M255.4 381.3h.6M255.8 380.9h.6M255.9 386.1h.6M258.5 382.7h.6M268.3 378.9h.6M262.8 385.0h.6M281.6 383.5h.6M267.5 385.6h.6M264.8 379.1h.6M284.3 378.5h.6M260.9 384.0h.6M254.0 380.6h.6M263.5 375.2h.6M251.2 380.2h.6M267.1 384.0h.6M275.5 379.7h.6M268.3 386.1h.6M257.9 380.4h.6M260.6 381.7h.6M266.8 376.8h.6M273.7 379.5h.6M258.0 381.4h.6M257.9 383.9h.6M272.8 382.6h.6M264.2 385.4h.6M265.4 375.1h.6M266.8 382.1h.6M254.3 381.5h.6M260.5 378.7h.6M272.6 381.9h.6M260.5 379.6h.6M260.1 383.4h.6M265.0 380.9h.6M265.9 383.6h.6M287.3 379.1h.6M254.0 386.1h.6M263.4 383.3h.6M282.1 387.7h.6M262.4 381.6h.6M265.8 380.4h.6M247.6 382.4h.6M271.7 380.5h.6M270.7 378.7h.6M270.2 382.0h.6M260.3 381.8h.6M265.7 379.9h.6M261.4 380.8h.6M270.5 378.9h.6M261.9 382.5h.6M269.9 377.7h.6M248.8 387.4h.6M258.8 382.1h.6M260.6 378.2h.6M269.7 383.1h.6M259.5 381.6h.6M285.4 385.1h.6M252.2 384.8h.6M258.7 376.8h.6M252.9 385.7h.6M257.1 377.2h.6M257.4 386.3h.6M247.4 381.8h.6M252.3 378.2h.6M282.2 384.3h.6M259.5 382.1h.6M271.1 378.8h.6M249.4 379.6h.6M260.9 383.5h.6M267.4 377.6h.6M260.3 379.2h.6M257.0 387.9h.6M260.2 379.5h.6M262.3 383.2h.6M270.3 383.4h.6M274.0 385.1h.6M248.9 384.8h.6M241.6 373.9h.6M260.1 380.4h.6M262.1 385.8h.6M269.2 379.5h.6M272.6 387.9h.6M255.4 382.8h.6M282.5 378.1h.6M264.6 383.8h.6M244.5 388.3h.6M271.6 379.8h.6M264.8 383.8h.6M264.9 379.2h.6M246.2 380.1h.6M259.0 382.4h.6M263.6 383.7h.6M260.5 383.1h.6M268.9 382.7h.6M274.5 389.8h.6M277.2 378.5h.6M274.5 376.0h.6M260.6 383.8h.6M279.1 382.6h.6M264.6 377.4h.6M270.5 387.6h.6M259.6 379.8h.6M248.2 377.5h.6M263.9 384.1h.6M255.3 389.6h.6M262.0 377.1h.6M270.9 377.9h.6M246.8 381.1h.6M244.5 380.6h.6M264.6 381.8h.6M265.7 379.7h.6M259.3 377.0h.6M256.8 380.6h.6M246.2 384.3h.6M261.2 384.6h.6M254.6 379.9h.6M266.3 383.8h.6M271.4 383.4h.6M256.5 380.4h.6M266.2 380.9h.6M263.9 382.2h.6M269.0 391.0h.6M277.3 382.6h.6M268.6 379.2h.6M269.1 381.5h.6M269.9 380.2h.6M257.8 385.7h.6M262.0 375.0h.6M265.5 378.5h.6M274.3 384.7h.6M274.9 383.4h.6M284.6 382.1h.6M251.2 384.4h.6M261.6 377.7h.6M244.9 383.2h.6M256.7 378.3h.6M245.7 377.9h.6M273.6 383.6h.6M269.5 379.5h.6M251.4 380.9h.6M265.4 384.1h.6M269.4 378.7h.6M279.3 384.0h.6M270.3 389.3h.6M263.3 381.4h.6M261.1 385.1h.6M268.3 384.5h.6M265.1 377.9h.6M257.3 377.6h.6M249.9 382.1h.6M272.5 375.1h.6M254.9 382.2h.6M259.3 382.9h.6M270.0 383.6h.6M261.5 383.5h.6M273.3 386.4h.6M250.9 381.0h.6M269.6 386.4h.6M248.8 383.8h.6M247.1 383.8h.6M251.7 381.6h.6M263.2 385.2h.6M255.3 379.6h.6M248.3 384.4h.6M274.0 385.7h.6M252.5 379.9h.6M260.9 379.0h.6M264.6 379.6h.6M257.3 381.9h.6M265.6 383.2h.6M268.2 384.9h.6M261.0 388.2h.6M272.4 387.3h.6M256.1 383.0h.6M251.5 380.8h.6M264.1 378.2h.6M252.4 384.7h.6M265.8 383.8h.6M261.0 381.2h.6M257.4 381.5h.6M267.8 381.7h.6M267.4 373.7h.6M258.8 383.1h.6M263.4 381.7h.6M266.9 378.6h.6M256.6 382.2h.6M250.6 383.6h.6M263.3 387.9h.6M268.8 385.5h.6M241.5 384.0h.6M247.1 381.9h.6M256.2 377.7h.6M256.1 377.6h.6M270.2 381.7h.6M251.4 385.5h.6M263.4 385.5h.6M253.2 385.0h.6M266.2 382.1h.6M268.5 385.3h.6M275.0 381.2h.6M262.7 375.7h.6M272.5 382.5h.6M266.0 382.2h.6M257.3 376.4h.6M276.7 380.4h.6M256.0 374.1h.6M263.7 380.5h.6M286.4 386.0h.6M270.6 380.0h.6M253.8 386.3h.6M264.9 382.8h.6M256.5 379.7h.6M260.5 376.3h.6M247.0 384.5h.6M264.2 384.2h.6M246.5 377.3h.6M265.7 380.7h.6M265.7 385.7h.6M270.4 379.7h.6M284.2 383.4h.6M245.5 375.8h.6M250.1 379.1h.6M252.0 384.4h.6M256.3 378.2h.6M270.8 377.4h.6M258.6 377.6h.6M256.1 380.8h.6M250.7 377.0h.6M255.7 381.7h.6M257.6 383.9h.6M260.9 387.0h.6M247.7 380.8h.6M261.2 387.3h.6M267.6 383.9h.6M265.4 381.4h.6M249.5 383.8h.6M270.2 387.0h.6M270.0 386.9h.6M265.0 384.5h.6M249.7 381.8h.6M247.3 384.8h.6M262.4 382.8h.6M251.7 382.6h.6M248.6 382.9h.6M270.9 388.0h.6M271.1 378.2h.6M268.4 381.8h.6M275.1 378.5h.6M271.0 384.9h.6M250.4 385.7h.6M273.4 386.5h.6M263.2 380.9h.6M266.4 382.2h.6M277.6 384.6h.6M266.4 382.7h.6M277.7 383.0h.6M262.5 382.7h.6M258.2 383.0h.6M254.9 381.7h.6M260.6 383.5h.6M245.2 377.3h.6M261.4 380.7h.6M260.8 377.8h.6M256.6 381.8h.6M267.7 379.1h.6M275.4 387.5h.6M279.8 381.2h.6M264.6 380.3h.6M267.4 381.4h.6M274.2 389.6h.6M280.9 383.4h.6M276.9 381.7h.6M274.9 380.4h.6M271.8 378.8h.6M269.5 394.5h.6M274.5 383.0h.6M275.2 383.8h.6M273.2 381.9h.6M268.6 387.5h.6M262.4 379.1h.6M267.0 375.5h.6M269.9 380.9h.6M265.1 384.5h.6M274.1 392.3h.6M263.5 382.9h.6M270.3 379.7h.6M274.3 382.3h.6M277.1 380.0h.6M273.6 380.0h.6M279.5 383.5h.6M268.6 384.4h.6M267.5 380.5h.6M278.8 387.6h.6M266.8 382.9h.6M271.2 383.6h.6M261.7 381.1h.6M279.0 384.7h.6M276.5 384.8h.6M267.6 385.9h.6M261.6 379.9h.6M273.7 385.7h.6M273.8 380.9h.6M279.2 383.6h.6M283.4 386.2h.6M273.6 389.3h.6M270.8 381.4h.6M270.7 378.7h.6M270.3 383.8h.6M263.9 388.1h.6M266.7 381.9h.6M271.6 393.0h.6M262.2 375.6h.6M264.2 389.3h.6M279.5 387.9h.6M268.1 387.7h.6M277.0 379.9h.6M278.8 388.7h.6M272.2 387.9h.6M277.2 388.3h.6M271.0 382.3h.6M266.8 382.3h.6M271.5 388.4h.6M272.6 384.6h.6M272.9 381.8h.6M272.6 379.9h.6M269.8 384.3h.6M278.6 377.8h.6M271.0 385.6h.6M269.6 383.9h.6M277.8 377.0h.6M266.1 385.1h.6M272.1 388.1h.6M281.1 384.2h.6M272.6 377.9h.6M280.8 380.8h.6M270.6 386.6h.6M269.1 378.0h.6M271.2 381.7h.6M268.8 387.8h.6M270.1 382.1h.6M269.6 380.9h.6M277.1 386.5h.6M274.6 389.7h.6M271.0 384.8h.6M267.7 377.9h.6M271.0 382.2h.6M280.7 375.9h.6M265.1 382.9h.6M267.8 386.9h.6M279.6 372.5h.6M265.6 382.5h.6M265.8 384.5h.6M271.9 381.0h.6M267.8 384.8h.6M270.5 385.2h.6M273.2 387.4h.6M277.5 394.1h.6M273.3 384.5h.6M274.0 379.6h.6M280.2 379.1h.6M280.8 378.2h.6M270.1 386.1h.6M261.1 384.6h.6" stroke="#000" stroke-width="0.6" stroke-opacity="0.4" fill="none"/></g>
<rect x="267.2" y="368.4" width="22.1" height="27.3" rx="0.5" fill="none" stroke="#555" stroke-width="0.85"/>
<text x="277.2" y="366.7" font-size="8.2" text-anchor="middle" fill="#1a1a1a" stroke="#1a1a1a" stroke-width="0.1" textLength="14.8" lengthAdjust="spacingAndGlyphs">36.1</text>
<path d="M240.2 362.81h1.3M240.2 374.17h1.3M240.2 385.53h1.3M240.2 396.89h1.3" stroke="#333" stroke-width="0.8" fill="none"/>
<path d="M240.8 403.93v2.2" stroke="#111" stroke-width="1.2" fill="none"/>
<path d="M245 411.7v1.3M246.5 411.7v1.3M248 411.7v1.3M249.5 411.7v1.3M251 411.7v1.3M252.5 411.7v1.3M256.2 411.7v1.3M257.7 411.7v1.3M259.2 411.7v1.3M260.7 411.7v1.3M262.2 411.7v1.3M263.7 411.7v1.3M267.4 411.7v1.3M268.9 411.7v1.3M270.4 411.7v1.3M271.9 411.7v1.3M273.4 411.7v1.3M274.9 411.7v1.3M278.6 411.7v1.3M280.1 411.7v1.3M281.6 411.7v1.3M283.1 411.7v1.3M284.6 411.7v1.3M286.1 411.7v1.3" stroke="#444" stroke-width="0.7" fill="none"/>
<path d="M245 412.5h8.5" stroke="#222" stroke-width="0.8" stroke-dasharray="1 .6" fill="none"/>
<line x1="171.3" y1="337.5" x2="171.3" y2="301" stroke="#111" stroke-width="1.3"/>
<path d="M167.9 302.2L171.3 295.4L174.7 302.2L171.3 300.8Z" fill="#111"/>
<text x="173.8" y="356.45" font-size="10.5" text-anchor="middle" fill="#2e2e2e" stroke="#2e2e2e" stroke-width="0.1" textLength="19.1" lengthAdjust="spacingAndGlyphs" transform="rotate(-90 173.8 356.45)">CD19</text>
<path d="M171.2 375.5V423H218.8" stroke="#2a2a2a" stroke-width="1.4" fill="none"/>
<text x="230" y="427.4" font-size="10.8" fill="#2e2e2e" stroke="#2e2e2e" stroke-width="0.1" textLength="12.7" lengthAdjust="spacingAndGlyphs">GL7</text>
<line x1="252.9" y1="423" x2="277" y2="423" stroke="#111" stroke-width="1.3"/>
<path d="M275.2 419.6L282.5 423L275.2 426.4L276.4 423Z" fill="#111"/>
<line x1="341.25" y1="260.5" x2="341.25" y2="412" stroke="#2a2a2a" stroke-width="1.3"/>
<line x1="340.5" y1="411.25" x2="512.5" y2="411.25" stroke="#2a2a2a" stroke-width="1.3"/>
<line x1="337.7" y1="411.25" x2="341.25" y2="411.25" stroke="#2a2a2a" stroke-width="1.2"/>
<text x="335.2" y="414.25" font-size="8.7" text-anchor="end" fill="#2e2e2e" stroke="#2e2e2e" stroke-width="0.1">0</text>
<line x1="337.7" y1="374.19" x2="341.25" y2="374.19" stroke="#2a2a2a" stroke-width="1.2"/>
<text x="335.2" y="377.19" font-size="8.7" text-anchor="end" fill="#2e2e2e" stroke="#2e2e2e" stroke-width="0.1" textLength="8.6" lengthAdjust="spacingAndGlyphs">15</text>
<line x1="337.7" y1="337.12" x2="341.25" y2="337.12" stroke="#2a2a2a" stroke-width="1.2"/>
<text x="335.2" y="340.12" font-size="8.7" text-anchor="end" fill="#2e2e2e" stroke="#2e2e2e" stroke-width="0.1">30</text>
<line x1="337.7" y1="300.06" x2="341.25" y2="300.06" stroke="#2a2a2a" stroke-width="1.2"/>
<text x="335.2" y="303.06" font-size="8.7" text-anchor="end" fill="#2e2e2e" stroke="#2e2e2e" stroke-width="0.1">45</text>
<line x1="337.7" y1="262.99" x2="341.25" y2="262.99" stroke="#2a2a2a" stroke-width="1.2"/>
<text x="335.2" y="265.99" font-size="8.7" text-anchor="end" fill="#2e2e2e" stroke="#2e2e2e" stroke-width="0.1">60</text>
<line x1="363.25" y1="411.25" x2="363.25" y2="414.5" stroke="#2a2a2a" stroke-width="1.1"/>
<text x="363.25" y="425.4" font-size="8.7" text-anchor="middle" fill="#2e2e2e" stroke="#2e2e2e" stroke-width="0.1" textLength="9.3" lengthAdjust="spacingAndGlyphs">20</text>
<line x1="426.75" y1="411.25" x2="426.75" y2="414.5" stroke="#2a2a2a" stroke-width="1.1"/>
<text x="426.75" y="425.4" font-size="8.7" text-anchor="middle" fill="#2e2e2e" stroke="#2e2e2e" stroke-width="0.1" textLength="9.3" lengthAdjust="spacingAndGlyphs">42</text>
<line x1="490.5" y1="411.25" x2="490.5" y2="414.5" stroke="#2a2a2a" stroke-width="1.1"/>
<text x="490.5" y="425.4" font-size="8.7" text-anchor="middle" fill="#2e2e2e" stroke="#2e2e2e" stroke-width="0.1" textLength="8.8" lengthAdjust="spacingAndGlyphs">61</text>
<text x="427.25" y="439.2" font-size="10" text-anchor="middle" fill="#2e2e2e" stroke="#2e2e2e" stroke-width="0.1" textLength="51.9" lengthAdjust="spacingAndGlyphs">Days post-BMT</text>
<text x="320" y="335.6" font-size="10.6" text-anchor="middle" fill="#2e2e2e" stroke="#2e2e2e" stroke-width="0.1" textLength="51.4" lengthAdjust="spacingAndGlyphs" transform="rotate(-90 320 335.6)">% GL7<tspan font-size="6.5" dy="-3.6">+</tspan><tspan dy="3.6"> B cells</tspan></text>
<path d="M363.25 378.25L426.75 379.5L490.5 376.25" stroke="#c0263c" stroke-width="1.4" fill="none"/>
<path d="M363.25 366.25L426.75 394.5L490.5 377.5" stroke="#5aa83a" stroke-width="1.3" fill="none"/>
<path d="M363.75 303L426.75 340.5L490.5 330.75" stroke="#27467f" stroke-width="1.3" fill="none"/>
<path d="M358.27 285.10L358.80 286.27L360.08 286.41L359.13 287.28L359.39 288.54L358.27 287.90L357.16 288.54L357.42 287.28L356.47 286.41L357.75 286.27ZM361.93 285.10L362.45 286.27L363.73 286.41L362.78 287.28L363.04 288.54L361.93 287.90L360.81 288.54L361.07 287.28L360.12 286.41L361.40 286.27ZM365.57 285.10L366.10 286.27L367.38 286.41L366.43 287.28L366.69 288.54L365.57 287.90L364.46 288.54L364.72 287.28L363.77 286.41L365.05 286.27ZM369.23 285.10L369.75 286.27L371.03 286.41L370.08 287.28L370.34 288.54L369.23 287.90L368.11 288.54L368.37 287.28L367.42 286.41L368.70 286.27Z" fill="#1e1e1e"/>
<path d="M425.18 326.10L425.70 327.27L426.98 327.41L426.03 328.28L426.29 329.54L425.18 328.90L424.06 329.54L424.32 328.28L423.37 327.41L424.65 327.27ZM428.82 326.10L429.35 327.27L430.63 327.41L429.68 328.28L429.94 329.54L428.82 328.90L427.71 329.54L427.97 328.28L427.02 327.41L428.30 327.27Z" fill="#1e1e1e"/>
<path d="M490.50 305.10L491.03 306.27L492.31 306.41L491.36 307.28L491.62 308.54L490.50 307.90L489.38 308.54L489.64 307.28L488.69 306.41L489.97 306.27Z" fill="#1e1e1e"/>
<line x1="466.1" y1="264.5" x2="479.9" y2="264.5" stroke="#c0263c" stroke-width="1.3"/>
<text x="483.5" y="266.9" font-size="7.8" fill="#2e2e2e" stroke="#2e2e2e" stroke-width="0.1" textLength="28.9" lengthAdjust="spacingAndGlyphs">BM only</text>
<line x1="466.1" y1="276.1" x2="479.9" y2="276.1" stroke="#27467f" stroke-width="1.3"/>
<text x="483.5" y="278.5" font-size="7.8" fill="#2e2e2e" stroke="#2e2e2e" stroke-width="0.1" textLength="26.2" lengthAdjust="spacingAndGlyphs">BM+Sp</text>
<line x1="466.1" y1="288.6" x2="479.9" y2="288.6" stroke="#5aa83a" stroke-width="1.3"/>
<text x="483.5" y="290.5" font-size="7.8" fill="#2e2e2e" stroke="#2e2e2e" stroke-width="0.1" textLength="11.9" lengthAdjust="spacingAndGlyphs">Syn</text>
<text x="7.2" y="468.8" font-size="12.4" font-weight="bold" fill="#0a0a0a">F</text>
<text x="42" y="485" font-size="10.6" text-anchor="middle" fill="#2e2e2e" stroke="#2e2e2e" stroke-width="0.1" textLength="37.5" lengthAdjust="spacingAndGlyphs">BM only</text>
<text x="42" y="560.5" font-size="10.6" text-anchor="middle" fill="#2e2e2e" stroke="#2e2e2e" stroke-width="0.1" textLength="34" lengthAdjust="spacingAndGlyphs">BM+Sp</text>
<defs>
<linearGradient id="p1b" x1="0" y1="0" x2="1" y2="0"><stop offset="0" stop-color="#d2c7bd"/><stop offset="0.6" stop-color="#d8cdbd"/><stop offset="0.75" stop-color="#b5ab90"/><stop offset="0.86" stop-color="#3a3626"/><stop offset="1" stop-color="#0e0e0a"/></linearGradient>
<radialGradient id="p1p" cx="0.45" cy="0.5" r="0.5"><stop offset="0" stop-color="#c08898" stop-opacity="0.7"/><stop offset="0.6" stop-color="#c8a0a8" stop-opacity="0.35"/><stop offset="1" stop-color="#c8a0a8" stop-opacity="0"/></radialGradient>
<radialGradient id="e1" cx="0.55" cy="0.45" r="0.6"><stop offset="0" stop-color="#7a3434"/><stop offset="0.7" stop-color="#642428"/><stop offset="1" stop-color="#80444a"/></radialGradient>
<linearGradient id="p2b" x1="0" y1="0" x2="1" y2="0"><stop offset="0" stop-color="#e08a68"/><stop offset="0.6" stop-color="#e2906a"/><stop offset="0.78" stop-color="#c06a48"/><stop offset="0.88" stop-color="#4a2018"/><stop offset="1" stop-color="#140a0a"/></linearGradient>
<radialGradient id="p2t" cx="0.45" cy="0.55" r="0.7"><stop offset="0" stop-color="#e89870" stop-opacity="0.3"/><stop offset="0.6" stop-color="#d07858" stop-opacity="0"/><stop offset="1" stop-color="#903828" stop-opacity="0.8"/></radialGradient>
<clipPath id="c1"><rect x="15.25" y="491" width="53.5" height="53.75"/></clipPath>
<clipPath id="c2"><rect x="15.25" y="567" width="53.5" height="53.5"/></clipPath>
<filter id="bl" x="-20%" y="-20%" width="140%" height="140%"><feGaussianBlur stdDeviation="1.2"/></filter>
<filter id="bl2" x="-50%" y="-50%" width="200%" height="200%"><feGaussianBlur stdDeviation="0.5"/></filter>
</defs>
<defs><linearGradient id="p1v" x1="0" y1="0" x2="0.3" y2="1"><stop offset="0" stop-color="#b9a9a6"/><stop offset="0.5" stop-color="#c7b5b2"/><stop offset="1" stop-color="#cfc3b6"/></linearGradient><radialGradient id="p1vig" cx="0.35" cy="0.45" r="0.72"><stop offset="0.6" stop-color="#000" stop-opacity="0"/><stop offset="1" stop-color="#1a1810" stop-opacity="0.55"/></radialGradient><radialGradient id="p2vig" cx="0.35" cy="0.55" r="0.75"><stop offset="0.55" stop-color="#000" stop-opacity="0"/><stop offset="1" stop-color="#501820" stop-opacity="0.5"/></radialGradient><filter id="bl3" x="-10%" y="-10%" width="120%" height="120%"><feGaussianBlur stdDeviation="0.35"/></filter><filter id="bl4" x="-50%" y="-50%" width="200%" height="200%"><feGaussianBlur stdDeviation="2.2"/></filter></defs>
<g clip-path="url(#c1)"><rect x="15.25" y="491" width="53.5" height="53.75" fill="url(#p1v)"/><rect x="15.25" y="491" width="53.5" height="53.75" fill="url(#p1p)"/><g filter="url(#bl3)"><path d="M51.0 535.2l-3.2 3.5M16.5 511.5l0.6 -3.2M16.2 546.0l-3.3 -2.9M34.0 544.6l-8.0 -1.2M32.1 517.6l0.4 -3.3M39.6 505.2l3.3 0.8M45.2 538.7l-4.4 7.1M54.1 491.0l3.0 0.4M37.2 514.5l4.9 -0.6M51.1 507.7l3.8 6.1M34.6 534.7l-4.0 2.8M50.8 518.4l0.1 4.4M14.7 542.3l-3.8 -7.1M30.9 543.3l-8.6 -0.8M39.6 503.4l3.3 6.2M45.5 516.0l3.4 5.9M18.9 528.8l-2.3 -4.7M50.7 500.9l6.3 4.6M31.5 529.9l-6.6 -5.6M59.6 530.5l-2.8 2.8M46.8 537.5l-5.9 2.4M36.1 543.7l-4.9 2.2M14.0 513.5l1.9 -8.4M56.5 508.3l3.7 1.8M51.9 498.8l3.0 1.7M53.5 536.4l-4.6 4.1M25.9 517.5l1.1 -3.5M53.8 505.6l2.8 1.9M14.1 500.9l3.9 -7.6M54.9 516.9l1.6 6.8M53.5 508.9l2.3 4.9M41.3 531.3l-6.5 2.9M46.1 490.3l3.2 2.2M23.8 501.4l3.9 -1.8M41.6 539.6l-5.2 0.1M33.2 528.1l-7.5 -4.3M31.3 529.6l-3.6 -7.1M24.6 538.8l-6.3 -3.7M38.6 507.7l2.3 2.3M16.0 519.7l-1.3 -7.9M14.9 521.2l0.8 -6.5M47.6 519.4l1.3 5.8M42.3 503.9l5.3 4.6M22.8 545.5l-8.1 3.2M27.5 514.8l1.3 -3.0M14.8 503.8l3.9 -0.8M45.7 504.0l3.1 2.7M45.2 518.1l-0.4 5.7M26.6 517.3l1.4 -4.0M47.7 504.1l4.8 1.0M18.3 542.4l-4.0 0.4M14.0 493.4l2.7 -4.8M41.7 544.9l-4.3 1.2M42.1 541.6l-8.0 1.2M32.2 533.8l-6.7 0.3M37.3 495.8l7.9 -0.1M36.2 511.7l4.7 2.2M54.5 513.4l4.7 2.2M16.8 505.5l0.8 -3.3M38.9 514.8l2.8 2.7M56.3 497.5l1.9 5.1M50.9 491.1l8.6 0.3M45.5 504.6l4.3 1.2M55.1 543.2l-4.3 4.4M22.5 512.6l5.1 -5.2M22.7 508.6l2.8 -4.5M45.4 534.1l-5.3 2.0M17.1 510.5l4.5 -4.0M39.6 523.9l-7.8 0.2M25.9 507.7l4.6 -3.8M58.2 497.8l4.4 3.8M35.8 539.3l-6.1 -0.2M25.5 509.2l4.3 -3.2M50.1 490.8l4.1 0.5M44.2 500.7l3.2 0.4M17.2 498.8l2.3 -7.7M25.2 536.2l-2.9 -1.7M16.8 542.2l-1.7 -2.6M56.9 502.7l4.4 4.8M23.4 544.6l-6.3 -1.5M40.3 505.8l7.4 -5.0M41.4 494.7l6.4 2.7M36.5 526.6l-4.8 0.2M37.7 493.8l4.0 -0.7M25.7 540.4l-3.3 -3.1M46.2 545.8l-4.7 1.7M40.8 522.8l-5.7 4.3M38.0 519.2l1.4 3.2M23.8 545.3l-4.0 -2.2M17.3 507.5l1.1 -3.0" stroke="#eee8e0" stroke-width="1.1" stroke-opacity="0.5" fill="none"/><path d="M27.3 504.4l4.0 -3.3M58.3 541.3l-1.2 1.9M30.1 519.4l-0.4 -4.9M48.2 540.2l-2.7 1.2M55.9 539.5l-2.1 2.0M44.4 536.0l-2.0 0.6M22.7 513.7l1.1 -5.0M39.6 519.0l-2.6 3.8M40.8 543.0l-2.5 -0.1M30.3 508.2l1.8 -2.0M46.5 536.1l-4.8 3.0M18.2 507.2l3.4 -1.5M23.9 530.8l-1.2 -2.6M21.6 519.1l-0.5 -5.7M53.2 536.8l-4.0 3.3M32.0 515.6l2.0 -0.8M44.8 500.8l3.2 2.8M40.5 540.1l-1.9 0.8M24.1 515.6l1.2 -2.9M47.9 511.1l0.3 2.9M38.5 545.7l-5.1 1.8M49.6 523.7l-2.0 3.6M18.7 521.9l1.4 -4.7M35.5 514.8l2.0 0.4M23.2 543.6l-4.5 -2.8M38.6 492.3l4.5 -0.6M18.1 516.9l-0.2 -2.2M16.1 495.8l4.5 -3.3M21.2 537.3l-2.5 -3.3M49.1 496.6l5.3 1.2M30.3 534.7l-4.9 -3.1M32.4 536.1l-3.2 -1.1M20.7 512.6l0.8 -2.8M33.3 528.2l-2.2 -2.0M46.7 529.7l-3.4 1.7M22.0 536.7l-3.0 -1.1M56.7 507.1l2.6 2.4M37.7 524.4l-4.5 1.3M15.1 541.9l-2.4 -3.0M34.5 505.4l3.5 -1.6M18.4 509.6l-0.3 -3.4M18.7 539.8l-3.8 -3.1M33.5 517.7l1.0 -1.8M36.5 515.7l2.0 -0.2M14.5 517.4l1.7 -2.8M19.4 510.4l1.5 -5.1M49.2 490.1l3.8 -1.0M51.5 521.6l-0.3 4.7M17.3 544.9l-2.4 -3.7M25.9 540.6l-3.4 -0.2M36.5 493.5l4.5 0.6M24.7 536.5l-5.2 -2.5M51.7 495.6l4.6 -2.9M15.5 497.3l3.4 -3.9M25.7 509.0l1.6 -1.9M14.5 522.9l-1.6 -2.0M52.3 517.3l3.7 2.8M23.4 535.0l-2.7 -2.9M19.8 504.3l4.2 -2.6M35.0 521.4l-3.4 -1.2" stroke="#a87080" stroke-width="0.8" stroke-opacity="0.35" fill="none"/></g><rect x="15.25" y="491" width="53.5" height="53.75" fill="url(#p1vig)"/><path d="M52 489C60 503 62 528 55 548H72V489Z" fill="#6a6648" filter="url(#bl4)" opacity="0.75"/><path d="M56 489C63.5 503 64.5 528 58.5 548H72V489Z" fill="#121210" filter="url(#bl)"/><path d="M23.2 520.3C27.5 512.5 33 508.9 39 508.9C46 508.9 50.5 513.5 50.5 519C50.5 524.5 45.5 527.8 38.5 527.8C31.5 527.8 26.5 524.5 23.2 520.3Z" fill="#b47a86" filter="url(#bl2)"/><path d="M24 520.3C28 513 33 509.7 39 509.7C45.5 509.7 49.7 514 49.7 519C49.7 524 45 527 38.5 527C32 527 27 524 24 520.3Z" fill="#582428"/><circle cx="39.5" cy="518.5" r="6.5" fill="#4a1a1e" opacity="0.5" filter="url(#bl2)"/><circle cx="35.8" cy="518.2" r="0.75" fill="#f4e8e8"/><circle cx="35" cy="526.2" r="0.9" fill="#ead8d8"/><circle cx="32.6" cy="511.2" r="0.55" fill="#e0d0d0"/><path d="M51.5 523.5l2 3.5" stroke="#c8a060" stroke-width="1.1" stroke-opacity="0.55"/></g>
<g clip-path="url(#c2)"><rect x="15.25" y="567" width="53.5" height="53.5" fill="#e08a6a"/><rect x="15.25" y="567" width="53.5" height="53.5" fill="url(#p2t)"/><g filter="url(#bl3)"><path d="M14.8 597.4l-1.5 0.7M36.2 602.7l-1.4 1.1M38.7 570.5l-0.5 -2.5M22.5 594.2l-2.1 0.5M61.5 585.6l3.0 -0.5M51.5 614.5l0.4 1.9M56.8 572.7l1.2 -1.1M28.4 573.4l-0.7 -2.4M41.2 578.2l0.1 -4.2M42.7 593.3l4.3 1.1M30.0 572.1l0.2 -2.0M33.5 607.6l-0.8 1.6M21.8 586.2l-2.5 -1.6M39.9 582.3l-0.3 -3.3M30.1 599.7l-2.2 1.3M35.9 573.3l-0.3 -1.6M16.7 570.7l-2.5 -2.7M42.1 610.7l0.7 2.4M41.9 613.9l0.2 1.6M15.7 608.3l-1.6 1.0M52.9 568.3l2.7 -2.4M36.7 592.7l-4.3 -0.0M27.1 580.8l-2.4 -2.1M38.8 598.0l0.3 1.8M61.0 605.4l2.6 1.8M25.3 574.8l-1.1 -1.1M15.3 585.2l-3.4 -2.6M35.7 583.1l-1.1 -2.1M37.1 592.7l-1.8 -0.3M14.4 610.5l-3.0 1.9M35.4 593.7l-2.5 -0.9M18.9 603.5l-2.9 1.0M31.7 589.9l-3.9 -0.9M60.2 609.7l2.7 3.3M32.5 585.2l-1.7 -2.3M16.7 578.0l-2.3 -1.4M50.7 592.0l1.5 0.5M48.6 608.6l1.2 2.2M44.5 573.7l-0.2 -4.4M51.6 600.7l3.4 2.7M59.9 584.6l1.6 -0.7M57.9 569.2l1.5 -2.9M24.7 589.6l-3.1 -1.7M38.9 612.5l0.5 3.6M14.8 603.8l-1.9 0.5M51.6 609.9l2.7 2.0M28.9 586.7l-2.9 -1.4M36.9 610.6l-0.4 1.8M61.1 575.0l3.1 -3.2M36.5 572.7l0.6 -3.1M51.8 622.0l-0.1 1.6M61.1 566.1l1.6 -3.9M57.2 588.5l3.3 -0.4M34.8 605.7l-1.8 2.3M57.8 599.0l3.3 1.7M20.5 602.1l-1.7 0.2M43.0 566.5l0.8 -2.6M22.7 603.2l-1.8 1.3M40.5 595.4l-0.3 3.9M58.8 572.2l2.6 -2.7M33.2 569.0l-0.5 -2.4M24.3 603.2l-1.4 1.8M46.0 578.6l0.9 -2.5M36.7 575.4l-1.4 -1.9M51.6 573.6l1.1 -2.5M57.8 602.7l1.9 0.4M19.0 599.9l-1.6 0.7M34.3 586.7l-1.8 -2.8M36.2 593.0l-3.4 -0.1M25.5 619.8l-1.3 3.3M19.9 601.5l-2.2 0.8M34.9 591.8l-3.0 -1.0M45.1 591.2l1.4 -1.5M57.1 613.0l2.6 3.5M51.6 582.3l2.9 -2.6M36.7 571.5l-1.1 -1.8M22.3 597.0l-2.2 -0.6M24.0 609.9l-2.0 2.5M42.6 611.3l0.6 2.2M31.4 621.9l-0.3 3.1M29.4 616.4l-1.1 2.7M42.5 609.0l1.8 3.1M23.9 585.0l-1.3 -1.1M61.2 593.6l1.7 -0.5M17.3 621.5l-2.7 3.5M54.7 590.1l3.1 -0.2M25.5 574.9l-1.5 -2.8M61.2 611.0l1.5 1.4M40.8 605.6l-1.5 2.8M36.5 566.6l-1.2 -3.9M16.8 595.4l-4.3 -0.8M14.8 583.2l-3.3 -3.0M52.3 581.0l2.3 -2.7M15.2 575.3l-1.8 -1.6M25.4 617.0l-1.5 3.8M51.6 594.8l3.5 0.7M40.3 606.8l0.5 3.8M16.7 575.2l-2.7 -2.3M55.6 569.2l0.9 -1.2M21.6 568.6l-1.1 -2.0M17.5 602.4l-3.0 1.9M60.9 581.8l1.4 -2.0M53.1 602.6l1.8 1.2M20.4 592.5l-2.3 -0.0M50.6 605.3l3.3 1.5M58.2 577.8l2.0 -1.8M23.5 588.4l-3.0 -2.7M45.9 596.3l1.8 1.0M47.4 587.3l1.4 -1.6M26.2 572.4l-0.8 -3.5" stroke="#f8c888" stroke-width="1.1" stroke-opacity="0.6" fill="none"/><path d="M28.0 616.2l-1.8 2.1M43.0 602.8l1.1 3.8M44.0 614.8l0.6 2.3M40.1 614.0l0.9 2.4M19.0 621.3l-1.3 1.9M54.7 590.5l2.2 -0.3M25.9 568.2l-0.9 -2.0M20.8 571.5l-2.2 -3.9M51.6 595.7l4.4 1.9M17.2 566.7l-0.4 -3.9M50.4 581.4l3.1 -3.4M16.1 619.6l-3.0 3.4M37.0 610.5l-1.8 4.4M27.3 575.6l-2.0 -2.6M55.2 591.3l3.0 -0.7M60.2 605.1l2.1 1.4M32.6 618.7l-0.9 2.7M24.1 579.9l-2.4 -1.1M19.1 612.1l-2.7 2.6M26.3 589.5l-2.6 -0.9M34.8 571.5l-0.7 -2.2M51.0 621.9l0.4 3.1M59.7 572.8l1.9 -1.4M36.2 609.9l-0.9 4.3M29.5 596.2l-4.9 1.1M49.2 588.0l3.7 -0.4M31.2 584.5l-1.7 -1.8M59.6 596.7l3.4 -0.4M14.7 584.2l-1.8 -1.2M14.6 566.4l-1.8 -0.9M59.7 601.0l1.5 1.5M38.4 577.6l0.3 -3.1M23.5 590.1l-2.4 -0.3M51.4 578.2l2.0 -3.7M55.4 606.8l3.7 3.2M14.5 580.5l-3.1 -1.9M58.2 591.9l4.2 -1.6M26.6 588.8l-2.1 -2.4M45.5 574.5l2.5 -4.3M23.3 575.2l-1.5 -1.6" stroke="#b04a38" stroke-width="0.9" stroke-opacity="0.4" fill="none"/></g><ellipse cx="47" cy="604" rx="2.5" ry="5" transform="rotate(-20 47 604)" fill="#f0b888" opacity="0.35" filter="url(#bl)"/><rect x="15.25" y="567" width="53.5" height="53.5" fill="url(#p2vig)"/><path d="M55 565C63 580 64 605 57 624H72V565Z" fill="#7a3030" filter="url(#bl)" opacity="0.8"/><path d="M58.5 565C65.5 580 66.5 605 60.5 624H72V565Z" fill="#160a0c" filter="url(#bl)"/><path d="M29 604.5C31.5 600 35.5 593.5 39.5 589C42 586.2 45.2 585.2 46.9 586.8C48.6 588.5 48 591.8 45.6 595C42.2 599.5 35.5 603.5 29 604.5Z" fill="#7c2020" stroke="#a03a30" stroke-width="0.6"/><path d="M31 603C34 600.5 37 599 40 597" stroke="#c06050" stroke-width="0.6" stroke-opacity="0.6" fill="none"/><circle cx="36.4" cy="594.3" r="0.9" fill="#fff4e8"/><path d="M64 590v1.5M64.5 594v1.5M63.5 598v1.5M64 603.5v2M63.8 608v1.5" stroke="#e8e0d8" stroke-width="0.7"/></g>
<rect x="118.8" y="607.8" width="27.5" height="12.7" fill="#cf8a7a"/>
<rect x="162" y="555" width="27.25" height="65.5" fill="#8e96b8"/>
<line x1="110.9" y1="470.5" x2="110.9" y2="621.2" stroke="#2a2a2a" stroke-width="1.3"/>
<line x1="110.1" y1="620.5" x2="197.5" y2="620.5" stroke="#2a2a2a" stroke-width="1.3"/>
<line x1="107.3" y1="620.5" x2="110.9" y2="620.5" stroke="#2a2a2a" stroke-width="1.2"/>
<text x="104.8" y="623.5" font-size="8.7" text-anchor="end" fill="#2e2e2e" stroke="#2e2e2e" stroke-width="0.1">0</text>
<line x1="107.3" y1="583.5" x2="110.9" y2="583.5" stroke="#2a2a2a" stroke-width="1.2"/>
<text x="104.8" y="586.5" font-size="8.7" text-anchor="end" fill="#2e2e2e" stroke="#2e2e2e" stroke-width="0.1">2</text>
<line x1="107.3" y1="546.5" x2="110.9" y2="546.5" stroke="#2a2a2a" stroke-width="1.2"/>
<text x="104.8" y="549.5" font-size="8.7" text-anchor="end" fill="#2e2e2e" stroke="#2e2e2e" stroke-width="0.1">4</text>
<line x1="107.3" y1="509.5" x2="110.9" y2="509.5" stroke="#2a2a2a" stroke-width="1.2"/>
<text x="104.8" y="512.5" font-size="8.7" text-anchor="end" fill="#2e2e2e" stroke="#2e2e2e" stroke-width="0.1">6</text>
<line x1="107.3" y1="472.5" x2="110.9" y2="472.5" stroke="#2a2a2a" stroke-width="1.2"/>
<text x="104.8" y="475.5" font-size="8.7" text-anchor="end" fill="#2e2e2e" stroke="#2e2e2e" stroke-width="0.1">8</text>
<text x="94.8" y="545" font-size="10.6" text-anchor="middle" fill="#2e2e2e" stroke="#2e2e2e" stroke-width="0.1" textLength="69.7" lengthAdjust="spacingAndGlyphs" transform="rotate(-90 94.8 545)">Eye pathology score</text>
<line x1="132.5" y1="620.5" x2="132.5" y2="623.8" stroke="#2a2a2a" stroke-width="1.1"/>
<line x1="175.5" y1="620.5" x2="175.5" y2="623.8" stroke="#2a2a2a" stroke-width="1.1"/>
<text x="132.5" y="634.6" font-size="9" text-anchor="middle" fill="#2e2e2e" stroke="#2e2e2e" stroke-width="0.1" textLength="12.8" lengthAdjust="spacingAndGlyphs">BM</text>
<text x="132.5" y="644.6" font-size="9" text-anchor="middle" fill="#2e2e2e" stroke="#2e2e2e" stroke-width="0.1" textLength="15.9" lengthAdjust="spacingAndGlyphs">only</text>
<text x="175.5" y="634.6" font-size="9" text-anchor="middle" fill="#2e2e2e" stroke="#2e2e2e" stroke-width="0.1" textLength="12.8" lengthAdjust="spacingAndGlyphs">BM</text>
<text x="175.5" y="644.6" font-size="9" text-anchor="middle" fill="#2e2e2e" stroke="#2e2e2e" stroke-width="0.1" textLength="13.6" lengthAdjust="spacingAndGlyphs">+Sp</text>
<line x1="133.75" y1="486.75" x2="178.25" y2="486.75" stroke="#5a5a5a" stroke-width="1.2"/>
<path d="M152.35 480.65L152.88 481.82L154.16 481.96L153.21 482.83L153.47 484.09L152.35 483.45L151.23 484.09L151.49 482.83L150.54 481.96L151.82 481.82ZM156.00 480.65L156.53 481.82L157.81 481.96L156.86 482.83L157.12 484.09L156.00 483.45L154.88 484.09L155.14 482.83L154.19 481.96L155.47 481.82ZM159.65 480.65L160.18 481.82L161.46 481.96L160.51 482.83L160.77 484.09L159.65 483.45L158.53 484.09L158.79 482.83L157.84 481.96L159.12 481.82Z" fill="#1e1e1e"/>
<text x="213.4" y="468.8" font-size="12.4" font-weight="bold" fill="#0a0a0a">G</text>
<rect x="264.5" y="576.25" width="27.5" height="44.25" fill="#cf8a7a"/>
<rect x="307.5" y="543" width="27.5" height="77.5" fill="#8e96b8"/>
<line x1="256.9" y1="470.5" x2="256.9" y2="621.2" stroke="#2a2a2a" stroke-width="1.3"/>
<line x1="256.1" y1="620.5" x2="343" y2="620.5" stroke="#2a2a2a" stroke-width="1.3"/>
<line x1="253.3" y1="620.5" x2="256.9" y2="620.5" stroke="#2a2a2a" stroke-width="1.2"/>
<text x="250.5" y="623.5" font-size="8.7" text-anchor="end" fill="#2e2e2e" stroke="#2e2e2e" stroke-width="0.1">0</text>
<line x1="253.3" y1="583.5" x2="256.9" y2="583.5" stroke="#2a2a2a" stroke-width="1.2"/>
<text x="250.5" y="586.5" font-size="8.7" text-anchor="end" fill="#2e2e2e" stroke="#2e2e2e" stroke-width="0.1">20</text>
<line x1="253.3" y1="546.5" x2="256.9" y2="546.5" stroke="#2a2a2a" stroke-width="1.2"/>
<text x="250.5" y="549.5" font-size="8.7" text-anchor="end" fill="#2e2e2e" stroke="#2e2e2e" stroke-width="0.1">40</text>
<line x1="253.3" y1="509.5" x2="256.9" y2="509.5" stroke="#2a2a2a" stroke-width="1.2"/>
<text x="250.5" y="512.5" font-size="8.7" text-anchor="end" fill="#2e2e2e" stroke="#2e2e2e" stroke-width="0.1">60</text>
<line x1="253.3" y1="472.5" x2="256.9" y2="472.5" stroke="#2a2a2a" stroke-width="1.2"/>
<text x="250.5" y="475.5" font-size="8.7" text-anchor="end" fill="#2e2e2e" stroke="#2e2e2e" stroke-width="0.1">80</text>
<line x1="278.25" y1="620.5" x2="278.25" y2="623.8" stroke="#2a2a2a" stroke-width="1.1"/>
<line x1="320.75" y1="620.5" x2="320.75" y2="623.8" stroke="#2a2a2a" stroke-width="1.1"/>
<text x="278.25" y="634.3" font-size="9" text-anchor="middle" fill="#2e2e2e" stroke="#2e2e2e" stroke-width="0.1" textLength="12.8" lengthAdjust="spacingAndGlyphs">BM</text>
<text x="278.25" y="644.8" font-size="9" text-anchor="middle" fill="#2e2e2e" stroke="#2e2e2e" stroke-width="0.1" textLength="15.9" lengthAdjust="spacingAndGlyphs">only</text>
<text x="320.75" y="634.3" font-size="9" text-anchor="middle" fill="#2e2e2e" stroke="#2e2e2e" stroke-width="0.1" textLength="12.8" lengthAdjust="spacingAndGlyphs">BM</text>
<text x="320.75" y="644.8" font-size="9" text-anchor="middle" fill="#2e2e2e" stroke="#2e2e2e" stroke-width="0.1" textLength="13.6" lengthAdjust="spacingAndGlyphs">+Sp</text>
<text x="234.9" y="545.35" font-size="10.6" text-anchor="middle" fill="#2e2e2e" stroke="#2e2e2e" stroke-width="0.1" textLength="52.5" lengthAdjust="spacingAndGlyphs" transform="rotate(-90 234.9 545.35)">% GL7<tspan font-size="6.5" dy="-3.6">+</tspan><tspan dy="3.6"> B cells</tspan></text>
<line x1="279.25" y1="494.5" x2="321.75" y2="494.5" stroke="#5a5a5a" stroke-width="1.2"/>
<path d="M298.68 488.40L299.20 489.57L300.48 489.71L299.53 490.58L299.79 491.84L298.68 491.20L297.56 491.84L297.82 490.58L296.87 489.71L298.15 489.57ZM302.32 488.40L302.85 489.57L304.13 489.71L303.18 490.58L303.44 491.84L302.32 491.20L301.21 491.84L301.47 490.58L300.52 489.71L301.80 489.57Z" fill="#1e1e1e"/>
<path d="M66.6 114.4V122.2M62.8 114.4H70.4M62.8 122.2H70.4" stroke="#2a2a2a" stroke-width="1.2" fill="none"/>
<path d="M94.25 74.5V85.5M90.05 74.5H98.45M90.05 85.5H98.45" stroke="#2a2a2a" stroke-width="1.25" fill="none"/>
<path d="M122.5 90.75V107M118.3 90.75H126.7M118.3 107H126.7" stroke="#2a2a2a" stroke-width="1.1" fill="none"/>
<path d="M212.4 163.8V172.4M207.2 163.8H217.6M207.2 172.4H217.6" stroke="#2a2a2a" stroke-width="1.15" fill="none"/>
<path d="M245 133.25V141.25M240.1 133.25H249.9M240.1 141.25H249.9" stroke="#2a2a2a" stroke-width="1.15" fill="none"/>
<path d="M278.5 175.5V182.5M273.6 175.5H283.4M273.6 182.5H283.4" stroke="#2a2a2a" stroke-width="1.15" fill="none"/>
<path d="M311.75 160.5V170M306.85 160.5H316.65M306.85 170H316.65" stroke="#2a2a2a" stroke-width="1.15" fill="none"/>
<path d="M345 97V117M340.1 97H349.9M340.1 117H349.9" stroke="#2a2a2a" stroke-width="1.15" fill="none"/>
<path d="M378 65.75V78M373.1 65.75H382.9M373.1 78H382.9" stroke="#2a2a2a" stroke-width="1.15" fill="none"/>
<path d="M106.6 312.5V317.6M103.3 312.5H109.9M103.3 317.6H109.9" stroke="#2a2a2a" stroke-width="1.25" fill="none"/>
<path d="M128.5 292.3V302.7M125.2 292.3H131.8M125.2 302.7H131.8" stroke="#2a2a2a" stroke-width="1.25" fill="none"/>
<path d="M363.5 291.25V314.25M359.4 291.25H367.6M359.4 314.25H367.6" stroke="#2a2a2a" stroke-width="1.1" fill="none"/>
<path d="M426.75 332.5V348M423.15 332.5H430.35M423.15 348H430.35" stroke="#2a2a2a" stroke-width="1.1" fill="none"/>
<path d="M490.5 311.25V350M486.9 311.25H494.1M486.9 350H494.1" stroke="#2a2a2a" stroke-width="1.1" fill="none"/>
<path d="M363.5 358.25V374.25M359.9 358.25H367.1M359.9 374.25H367.1" stroke="#2a2a2a" stroke-width="1.1" fill="none"/>
<path d="M426.75 377.5V381.5M424.25 377.5H429.25M424.25 381.5H429.25" stroke="#2a2a2a" stroke-width="1.25" fill="none"/>
<path d="M134 604V609.7M128.7 604H139.3M128.7 609.7H139.3" stroke="#2a2a2a" stroke-width="1.25" fill="none"/>
<path d="M175.5 543.25V565M168.6 543.25H182.4M168.6 565H182.4" stroke="#2a2a2a" stroke-width="1.4" fill="none"/>
<path d="M278.25 572.5V578.6M271.45 572.5H285.05M271.45 578.6H285.05" stroke="#2a2a2a" stroke-width="1.2" fill="none"/>
<path d="M320.75 531.75V553M313.95 531.75H327.55M313.95 553H327.55" stroke="#2a2a2a" stroke-width="1.4" fill="none"/>
<circle cx="60.9" cy="110.2" r="3.65" fill="none" stroke="#c0263c" stroke-width="1.15"/>
<circle cx="72.3" cy="105.9" r="3.65" fill="none" stroke="#c0263c" stroke-width="1.15"/>
<circle cx="67" cy="114.4" r="3.65" fill="none" stroke="#c0263c" stroke-width="1.15"/>
<circle cx="67" cy="122.6" r="3.65" fill="none" stroke="#c0263c" stroke-width="1.15"/>
<circle cx="61.1" cy="127.3" r="3.65" fill="none" stroke="#c0263c" stroke-width="1.15"/>
<circle cx="72.4" cy="126.2" r="3.65" fill="none" stroke="#c0263c" stroke-width="1.15"/>
<circle cx="94.25" cy="55.75" r="3.75" fill="#27467f"/>
<circle cx="88.75" cy="62.75" r="3.75" fill="#27467f"/>
<circle cx="100" cy="67" r="3.75" fill="#27467f"/>
<circle cx="88.75" cy="73.25" r="3.75" fill="#27467f"/>
<circle cx="100" cy="76.25" r="3.75" fill="#27467f"/>
<circle cx="88.75" cy="92" r="3.75" fill="#27467f"/>
<circle cx="95" cy="93.75" r="3.75" fill="#27467f"/>
<circle cx="100.5" cy="97.5" r="3.75" fill="#27467f"/>
<circle cx="89.5" cy="101.75" r="3.75" fill="#27467f"/>
<path d="M122.5 80.77L126.9 88.07L118.1 88.07Z" fill="none" stroke="#5aa83a" stroke-width="1.2" stroke-linejoin="miter"/>
<path d="M122.5 98.27L126.9 105.57L118.1 105.57Z" fill="none" stroke="#5aa83a" stroke-width="1.2" stroke-linejoin="miter"/>
<path d="M122.5 107.67L126.9 114.97L118.1 114.97Z" fill="none" stroke="#5aa83a" stroke-width="1.2" stroke-linejoin="miter"/>
<circle cx="206" cy="34.2" r="3.7" fill="none" stroke="#c0263c" stroke-width="1.1"/>
<circle cx="206" cy="46.2" r="4" fill="#27467f"/>
<circle cx="204.9" cy="162" r="3.65" fill="none" stroke="#c0263c" stroke-width="1.15"/>
<circle cx="210.4" cy="164.5" r="3.65" fill="none" stroke="#c0263c" stroke-width="1.15"/>
<circle cx="214.6" cy="164.5" r="3.65" fill="none" stroke="#c0263c" stroke-width="1.15"/>
<circle cx="219.9" cy="162.4" r="3.65" fill="none" stroke="#c0263c" stroke-width="1.15"/>
<circle cx="212.3" cy="185.5" r="3.65" fill="none" stroke="#c0263c" stroke-width="1.15"/>
<circle cx="271.25" cy="174.25" r="3.65" fill="none" stroke="#c0263c" stroke-width="1.15"/>
<circle cx="276.25" cy="176.25" r="3.65" fill="none" stroke="#c0263c" stroke-width="1.15"/>
<circle cx="281.25" cy="177.5" r="3.65" fill="none" stroke="#c0263c" stroke-width="1.15"/>
<circle cx="286.25" cy="174.5" r="3.65" fill="none" stroke="#c0263c" stroke-width="1.15"/>
<circle cx="278.75" cy="192.5" r="3.65" fill="none" stroke="#c0263c" stroke-width="1.15"/>
<circle cx="345" cy="86.25" r="3.65" fill="none" stroke="#c0263c" stroke-width="1.15"/>
<circle cx="338" cy="98.25" r="3.65" fill="none" stroke="#c0263c" stroke-width="1.15"/>
<circle cx="352.5" cy="94.25" r="3.65" fill="none" stroke="#c0263c" stroke-width="1.15"/>
<circle cx="344.5" cy="113.75" r="3.65" fill="none" stroke="#c0263c" stroke-width="1.15"/>
<circle cx="345" cy="143" r="3.65" fill="none" stroke="#c0263c" stroke-width="1.15"/>
<circle cx="238.25" cy="127" r="3.95" fill="#27467f"/>
<circle cx="252.5" cy="131.75" r="3.95" fill="#27467f"/>
<circle cx="238.25" cy="138.25" r="3.95" fill="#27467f"/>
<circle cx="252.5" cy="141.25" r="3.95" fill="#27467f"/>
<circle cx="245.5" cy="149.25" r="3.95" fill="#27467f"/>
<circle cx="304.5" cy="153.75" r="3.95" fill="#27467f"/>
<circle cx="318.75" cy="157" r="3.95" fill="#27467f"/>
<circle cx="304.5" cy="165.75" r="3.95" fill="#27467f"/>
<circle cx="318.75" cy="168.75" r="3.95" fill="#27467f"/>
<circle cx="311.75" cy="180" r="3.95" fill="#27467f"/>
<circle cx="370.75" cy="59.5" r="3.95" fill="#27467f"/>
<circle cx="385.5" cy="60" r="3.95" fill="#27467f"/>
<circle cx="370.75" cy="72.5" r="3.95" fill="#27467f"/>
<circle cx="385.5" cy="73.25" r="3.95" fill="#27467f"/>
<circle cx="378" cy="93.75" r="3.95" fill="#27467f"/>
<path d="M60.5 389L65.1 393.6L60.5 398.2L55.9 393.6Z" fill="#4a1e5e"/>
<path d="M63.5 388.6L68.1 393.2L63.5 397.8L58.9 393.2Z" fill="#4a1e5e"/>
<path d="M66 389L70.6 393.6L66 398.2L61.4 393.6Z" fill="#4a1e5e"/>
<path d="M67.5 389.2L72.1 393.8L67.5 398.4L62.9 393.8Z" fill="#4a1e5e"/>
<path d="M83.65 381.1L87.95 385.4L83.65 389.7L79.35 385.4Z" fill="#4a1e5e"/>
<path d="M87 384L91.3 388.3L87 392.6L82.7 388.3Z" fill="#4a1e5e"/>
<path d="M89.4 388.7L93.7 393L89.4 397.3L85.1 393Z" fill="#4a1e5e"/>
<path d="M85.1 385.9L89.4 390.2L85.1 394.5L80.8 390.2Z" fill="#4a1e5e"/>
<path d="M81.7 393.6L86 397.9L81.7 402.2L77.4 397.9Z" fill="#4a1e5e"/>
<path d="M103.5 302.55L107.45 306.5L103.5 310.45L99.55 306.5Z" fill="#4a1e5e"/>
<path d="M107.3 301.85L111.25 305.8L107.3 309.75L103.35 305.8Z" fill="#4a1e5e"/>
<path d="M110.4 308.35L114.35 312.3L110.4 316.25L106.45 312.3Z" fill="#4a1e5e"/>
<path d="M107 310.05L110.95 314L107 317.95L103.05 314Z" fill="#4a1e5e"/>
<path d="M107 324.75L110.95 328.7L107 332.65L103.05 328.7Z" fill="#4a1e5e"/>
<path d="M132 279.25L135.95 283.2L132 287.15L128.05 283.2Z" fill="#4a1e5e"/>
<path d="M125 283.85L128.95 287.8L125 291.75L121.05 287.8Z" fill="#4a1e5e"/>
<path d="M125 296.85L128.95 300.8L125 304.75L121.05 300.8Z" fill="#4a1e5e"/>
<path d="M132 300.85L135.95 304.8L132 308.75L128.05 304.8Z" fill="#4a1e5e"/>
<path d="M125 307.05L128.95 311L125 314.95L121.05 311Z" fill="#4a1e5e"/>
<circle cx="363.75" cy="303" r="3.9" fill="#27467f"/>
<circle cx="426.75" cy="340.5" r="3.9" fill="#27467f"/>
<circle cx="490.5" cy="330.75" r="3.9" fill="#27467f"/>
<path d="M363.25 362.05L367.35 369.05L359.15 369.05Z" fill="#5aa83a"/>
<path d="M426.75 390.3L430.85 397.3L422.65 397.3Z" fill="#5aa83a"/>
<path d="M490.5 373.3L494.6 380.3L486.4 380.3Z" fill="#5aa83a"/>
<circle cx="363.25" cy="378.25" r="3.8" fill="none" stroke="#c0263c" stroke-width="1.35"/>
<circle cx="426.75" cy="379.5" r="3.8" fill="none" stroke="#c0263c" stroke-width="1.35"/>
<circle cx="490.5" cy="376.25" r="3.8" fill="none" stroke="#c0263c" stroke-width="1.35"/>
<circle cx="473" cy="264.5" r="3.5" fill="none" stroke="#c0263c" stroke-width="1.2"/>
<circle cx="473" cy="276.1" r="3.9" fill="#27467f"/>
<path d="M473 283.98L477.5 291.18L468.5 291.18Z" fill="#5aa83a"/>
<circle cx="132.4" cy="574.3" r="3.6" fill="none" stroke="#c0263c" stroke-width="1.15"/>
<circle cx="130.4" cy="592.9" r="3.6" fill="none" stroke="#c0263c" stroke-width="1.15"/>
<circle cx="134.5" cy="592.9" r="3.6" fill="none" stroke="#c0263c" stroke-width="1.15"/>
<circle cx="130.2" cy="601.5" r="3.6" fill="none" stroke="#c0263c" stroke-width="1.15"/>
<circle cx="138.8" cy="601.5" r="3.6" fill="none" stroke="#c0263c" stroke-width="1.15"/>
<circle cx="122" cy="606.5" r="3.6" fill="none" stroke="#c0263c" stroke-width="1.15"/>
<circle cx="124.9" cy="606.5" r="3.6" fill="none" stroke="#c0263c" stroke-width="1.15"/>
<circle cx="134.5" cy="606.5" r="3.6" fill="none" stroke="#c0263c" stroke-width="1.15"/>
<circle cx="142.7" cy="606.5" r="3.6" fill="none" stroke="#c0263c" stroke-width="1.15"/>
<circle cx="130.4" cy="611" r="3.6" fill="none" stroke="#c0263c" stroke-width="1.15"/>
<circle cx="134.5" cy="615" r="3.6" fill="none" stroke="#c0263c" stroke-width="1.15"/>
<circle cx="122" cy="620.6" r="3.6" fill="none" stroke="#c0263c" stroke-width="1.15"/>
<circle cx="130.2" cy="620.6" r="3.6" fill="none" stroke="#c0263c" stroke-width="1.15"/>
<circle cx="138.8" cy="620.6" r="3.6" fill="none" stroke="#c0263c" stroke-width="1.15"/>
<circle cx="142.7" cy="620.6" r="3.6" fill="none" stroke="#c0263c" stroke-width="1.15"/>
<circle cx="165" cy="500.75" r="3.95" fill="#27467f"/>
<circle cx="185.75" cy="500.75" r="3.95" fill="#27467f"/>
<circle cx="165" cy="510" r="3.95" fill="#27467f"/>
<circle cx="185.75" cy="514.5" r="3.95" fill="#27467f"/>
<circle cx="165" cy="519.25" r="3.95" fill="#27467f"/>
<circle cx="185.75" cy="528.25" r="3.95" fill="#27467f"/>
<circle cx="165" cy="533" r="3.95" fill="#27467f"/>
<circle cx="175.5" cy="551.25" r="3.95" fill="#27467f"/>
<circle cx="165" cy="565" r="3.95" fill="#27467f"/>
<circle cx="185.75" cy="565" r="3.95" fill="#27467f"/>
<circle cx="175.5" cy="574.25" r="3.95" fill="#27467f"/>
<circle cx="165" cy="601.75" r="3.95" fill="#27467f"/>
<circle cx="185.75" cy="601.75" r="3.95" fill="#27467f"/>
<circle cx="165" cy="620.5" r="3.95" fill="#27467f"/>
<circle cx="185.75" cy="620.5" r="3.95" fill="#27467f"/>
<circle cx="267.5" cy="566.25" r="3.65" fill="none" stroke="#c0263c" stroke-width="1.15"/>
<circle cx="289.25" cy="568.75" r="3.65" fill="none" stroke="#c0263c" stroke-width="1.15"/>
<circle cx="272.5" cy="572" r="3.65" fill="none" stroke="#c0263c" stroke-width="1.15"/>
<circle cx="283.75" cy="573" r="3.65" fill="none" stroke="#c0263c" stroke-width="1.15"/>
<circle cx="268" cy="575.5" r="3.65" fill="none" stroke="#c0263c" stroke-width="1.15"/>
<circle cx="288.75" cy="578" r="3.65" fill="none" stroke="#c0263c" stroke-width="1.15"/>
<circle cx="278.25" cy="578.25" r="3.65" fill="none" stroke="#c0263c" stroke-width="1.15"/>
<circle cx="278.25" cy="593.25" r="3.65" fill="none" stroke="#c0263c" stroke-width="1.15"/>
<circle cx="320.75" cy="503.25" r="3.95" fill="#27467f"/>
<circle cx="310.75" cy="515.5" r="3.95" fill="#27467f"/>
<circle cx="310.75" cy="528.25" r="3.95" fill="#27467f"/>
<circle cx="332" cy="523" r="3.95" fill="#27467f"/>
<circle cx="320.75" cy="545" r="3.95" fill="#27467f"/>
<circle cx="310.75" cy="568.25" r="3.95" fill="#27467f"/>
<circle cx="331.75" cy="570.5" r="3.95" fill="#27467f"/>
<circle cx="320.75" cy="585.75" r="3.95" fill="#27467f"/>
</svg></body></html>
